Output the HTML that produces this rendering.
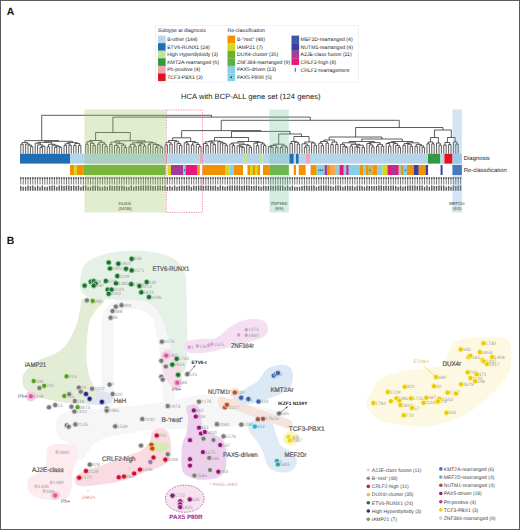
<!DOCTYPE html>
<html><head><meta charset="utf-8"><style>
html,body{margin:0;padding:0;background:#fff;}
body{width:520px;height:530px;overflow:hidden;}
svg{display:block;font-family:"Liberation Sans", sans-serif;text-rendering:geometricPrecision;}
</style></head><body>
<svg width="520" height="530" viewBox="0 0 520 530">
<rect x="0" y="0" width="520" height="530" fill="#fff"/>
<text x="6.8" y="15.0" font-size="10.4" fill="#111" font-weight="bold" text-anchor="start" >A</text>
<rect x="155.5" y="25.5" width="203" height="56.5" fill="#fff" stroke="#efefef" stroke-width="0.8"/>
<text x="158" y="32.2" font-size="5.15" fill="#262626" font-weight="normal" text-anchor="start" >Subtype at diagnosis</text>
<text x="227.5" y="32.2" font-size="5.15" fill="#262626" font-weight="normal" text-anchor="start" >Re-classification</text>
<rect x="158" y="35.60" width="7.6" height="7.62" fill="#b9d6ec"/>
<text x="167.2" y="41.2" font-size="5.15" fill="#262626" font-weight="normal" text-anchor="start" >B-other (144)</text>
<rect x="158" y="43.17" width="7.6" height="7.62" fill="#1f6db3"/>
<text x="167.2" y="48.77" font-size="5.15" fill="#262626" font-weight="normal" text-anchor="start" >ETV6-RUNX1 (24)</text>
<rect x="158" y="50.74" width="7.6" height="7.62" fill="#c9df94"/>
<text x="167.2" y="56.34" font-size="5.15" fill="#262626" font-weight="normal" text-anchor="start" >High Hyperdiploidy (3)</text>
<rect x="158" y="58.31" width="7.6" height="7.62" fill="#2f9a3f"/>
<text x="167.2" y="63.910000000000004" font-size="5.15" fill="#262626" font-weight="normal" text-anchor="start" >KMT2A-rearranged (6)</text>
<rect x="158" y="65.88" width="7.6" height="7.62" fill="#f3a5ad"/>
<text x="167.2" y="71.47999999999999" font-size="5.15" fill="#262626" font-weight="normal" text-anchor="start" >Ph-positive (4)</text>
<rect x="158" y="73.45" width="7.6" height="7.62" fill="#e1131f"/>
<text x="167.2" y="79.05" font-size="5.15" fill="#262626" font-weight="normal" text-anchor="start" >TCF3-PBX1 (3)</text>
<rect x="227.5" y="35.60" width="7.6" height="7.62" fill="#f39200"/>
<text x="237" y="41.2" font-size="5.15" fill="#262626" font-weight="normal" text-anchor="start" >B-"rest" (48)</text>
<rect x="227.5" y="43.17" width="7.6" height="7.62" fill="#d4d81c"/>
<text x="237" y="48.77" font-size="5.15" fill="#262626" font-weight="normal" text-anchor="start" >iAMP21 (7)</text>
<rect x="227.5" y="50.74" width="7.6" height="7.62" fill="#6cb22e"/>
<text x="237" y="56.34" font-size="5.15" fill="#262626" font-weight="normal" text-anchor="start" >DUX4-cluster (35)</text>
<rect x="227.5" y="58.31" width="7.6" height="7.62" fill="#5faf3a"/>
<text x="237" y="63.910000000000004" font-size="5.15" fill="#262626" font-weight="normal" text-anchor="start" >ZNF384-rearranged (9)</text>
<rect x="227.5" y="65.88" width="7.6" height="7.62" fill="#86cfe6"/>
<text x="237" y="71.47999999999999" font-size="5.15" fill="#262626" font-weight="normal" text-anchor="start" >PAX5-driven (13)</text>
<rect x="227.5" y="73.45" width="7.6" height="7.62" fill="#86cfe6"/>
<text x="237" y="79.05" font-size="5.15" fill="#262626" font-weight="normal" text-anchor="start" >PAX5 P80R (5)</text>
<circle cx="231.3" cy="77.25" r="0.9" fill="#1a3a8a"/>
<rect x="291.5" y="35.60" width="7.6" height="7.62" fill="#3b5ba8"/>
<text x="300.6" y="41.2" font-size="5.15" fill="#262626" font-weight="normal" text-anchor="start" >MEF2D-rearranged (4)</text>
<rect x="291.5" y="43.17" width="7.6" height="7.62" fill="#3c3f9f"/>
<text x="300.6" y="48.77" font-size="5.15" fill="#262626" font-weight="normal" text-anchor="start" >NUTM1-rearranged (4)</text>
<rect x="291.5" y="50.74" width="7.6" height="7.62" fill="#a43b96"/>
<text x="300.6" y="56.34" font-size="5.15" fill="#262626" font-weight="normal" text-anchor="start" >A2JE-class fusion (11)</text>
<rect x="291.5" y="58.31" width="7.6" height="6.65" fill="#e8177c"/>
<text x="300.6" y="63.910000000000004" font-size="5.15" fill="#262626" font-weight="normal" text-anchor="start" >CRLF2-high (8)</text>
<rect x="294.8" y="67.88" width="0.9" height="3.8" fill="#1e4a4a"/>
<text x="300.6" y="71.6" font-size="5.15" fill="#262626" font-weight="normal" text-anchor="start" >CRLF2-rearragement</text>
<text x="250.8" y="99.1" font-size="7.65" fill="#222" font-weight="normal" text-anchor="middle" >HCA with BCP-ALL gene set (124 genes)</text>
<path d="M20.80,144.28L23.20,144.28M20.80,144.28L20.80,153.80M23.20,144.28L23.20,153.80M30.41,146.76L32.82,146.76M30.41,146.76L30.41,153.80M32.82,146.76L32.82,153.80M28.01,145.22L31.61,145.22M28.01,145.22L28.01,153.80M31.61,145.22L31.61,146.76M25.61,144.08L29.81,144.08M25.61,144.08L25.61,153.80M29.81,144.08L29.81,145.22M22.00,142.60L27.71,142.60M22.00,142.60L22.00,144.28M27.71,142.60L27.71,144.08M40.03,147.30L42.43,147.30M40.03,147.30L40.03,153.80M42.43,147.30L42.43,153.80M41.23,146.33L44.83,146.33M41.23,146.33L41.23,147.30M44.83,146.33L44.83,153.80M37.62,144.88L43.03,144.88M37.62,144.88L37.62,153.80M43.03,144.88L43.03,146.33M35.22,143.18L40.33,143.18M35.22,143.18L35.22,153.80M40.33,143.18L40.33,144.88M47.24,146.80L49.64,146.80M47.24,146.80L47.24,153.80M49.64,146.80L49.64,153.80M54.45,147.30L56.85,147.30M54.45,147.30L54.45,153.80M56.85,147.30L56.85,153.80M59.25,147.30L61.66,147.30M59.25,147.30L59.25,153.80M61.66,147.30L61.66,153.80M55.65,146.39L60.45,146.39M55.65,146.39L55.65,147.30M60.45,146.39L60.45,147.30M52.04,145.32L58.05,145.32M52.04,145.32L52.04,153.80M58.05,145.32L58.05,146.39M48.44,144.27L55.05,144.27M48.44,144.27L48.44,146.80M55.05,144.27L55.05,145.32M37.77,142.40L51.74,142.40M37.77,142.40L37.77,143.18M51.74,142.40L51.74,144.27M64.06,145.32L66.46,145.32M64.06,145.32L64.06,153.80M66.46,145.32L66.46,153.80M68.87,145.32L71.27,145.32M68.87,145.32L68.87,153.80M71.27,145.32L71.27,153.80M65.26,143.75L70.07,143.75M65.26,143.75L65.26,145.32M70.07,143.75L70.07,145.32M73.67,145.56L76.08,145.56M73.67,145.56L73.67,153.80M76.08,145.56L76.08,153.80M78.48,145.42L80.88,145.42M78.48,145.42L78.48,153.80M80.88,145.42L80.88,153.80M74.87,143.55L79.68,143.55M74.87,143.55L74.87,145.56M79.68,143.55L79.68,145.42M67.66,142.60L77.28,142.60M67.66,142.60L67.66,143.75M77.28,142.60L77.28,143.55M44.76,141.30L72.47,141.30M44.76,141.30L44.76,142.40M72.47,141.30L72.47,142.60M24.86,140.60L58.61,140.60M24.86,140.60L24.86,142.60M58.61,140.60L58.61,141.30M85.69,144.20L88.09,144.20M85.69,144.20L85.69,153.80M88.09,144.20L88.09,153.80M92.90,145.41L95.30,145.41M92.90,145.41L92.90,153.80M95.30,145.41L95.30,153.80M90.50,143.28L94.10,143.28M90.50,143.28L90.50,153.80M94.10,143.28L94.10,145.41M86.89,141.74L92.30,141.74M86.89,141.74L86.89,144.20M92.30,141.74L92.30,143.28M97.70,144.10L100.11,144.10M97.70,144.10L97.70,153.80M100.11,144.10L100.11,153.80M104.91,146.53L107.32,146.53M104.91,146.53L104.91,153.80M107.32,146.53L107.32,153.80M102.51,144.13L106.12,144.13M102.51,144.13L102.51,153.80M106.12,144.13L106.12,146.53M98.91,142.25L104.31,142.25M98.91,142.25L98.91,144.10M104.31,142.25L104.31,144.13M89.59,140.50L101.61,140.50M89.59,140.50L89.59,141.74M101.61,140.50L101.61,142.25M109.72,144.39L112.12,144.39M109.72,144.39L109.72,153.80M112.12,144.39L112.12,153.80M116.93,147.30L119.33,147.30M116.93,147.30L116.93,153.80M119.33,147.30L119.33,153.80M114.53,145.45L118.13,145.45M114.53,145.45L114.53,153.80M118.13,145.45L118.13,147.30M124.14,147.30L126.54,147.30M124.14,147.30L124.14,153.80M126.54,147.30L126.54,153.80M121.74,145.10L125.34,145.10M121.74,145.10L121.74,153.80M125.34,145.10L125.34,147.30M116.33,143.70L123.54,143.70M116.33,143.70L116.33,145.45M123.54,143.70L123.54,145.10M110.92,142.09L119.94,142.09M110.92,142.09L110.92,144.39M119.94,142.09L119.94,143.70M128.95,146.80L131.35,146.80M128.95,146.80L128.95,153.80M131.35,146.80L131.35,153.80M133.75,146.16L136.16,146.16M133.75,146.16L133.75,153.80M136.16,146.16L136.16,153.80M130.15,144.32L134.96,144.32M130.15,144.32L130.15,146.80M134.96,144.32L134.96,146.16M138.56,145.53L140.96,145.53M138.56,145.53L138.56,153.80M140.96,145.53L140.96,153.80M143.37,146.06L145.77,146.06M143.37,146.06L143.37,153.80M145.77,146.06L145.77,153.80M139.76,144.00L144.57,144.00M139.76,144.00L139.76,145.53M144.57,144.00L144.57,146.06M132.55,142.84L142.17,142.84M132.55,142.84L132.55,144.32M142.17,142.84L142.17,144.00M148.17,144.54L150.58,144.54M148.17,144.54L148.17,153.80M150.58,144.54L150.58,153.80M155.38,147.30L157.79,147.30M155.38,147.30L155.38,153.80M157.79,147.30L157.79,153.80M160.19,147.30L162.59,147.30M160.19,147.30L160.19,153.80M162.59,147.30L162.59,153.80M156.59,145.76L161.39,145.76M156.59,145.76L156.59,147.30M161.39,145.76L161.39,147.30M152.98,144.59L158.99,144.59M152.98,144.59L152.98,153.80M158.99,144.59L158.99,145.76M149.38,142.97L155.98,142.97M149.38,142.97L149.38,144.54M155.98,142.97L155.98,144.59M137.36,142.07L152.68,142.07M137.36,142.07L137.36,142.84M152.68,142.07L152.68,142.97M115.43,140.80L145.02,140.80M115.43,140.80L115.43,142.09M145.02,140.80L145.02,142.07M95.60,132.50L130.22,132.50M95.60,132.50L95.60,140.50M130.22,132.50L130.22,140.80M165.00,144.80L167.40,144.80M165.00,144.80L165.00,153.80M167.40,144.80L167.40,153.80M169.80,144.09L172.21,144.09M169.80,144.09L169.80,153.80M172.21,144.09L172.21,153.80M166.20,142.26L171.00,142.26M166.20,142.26L166.20,144.80M171.00,142.26L171.00,144.09M179.42,145.33L181.82,145.33M179.42,145.33L179.42,153.80M181.82,145.33L181.82,153.80M177.01,143.55L180.62,143.55M177.01,143.55L177.01,153.80M180.62,143.55L180.62,145.33M174.61,141.70L178.82,141.70M174.61,141.70L174.61,153.80M178.82,141.70L178.82,143.55M168.60,140.50L176.71,140.50M168.60,140.50L168.60,142.26M176.71,140.50L176.71,141.70M186.63,144.29L189.03,144.29M186.63,144.29L186.63,153.80M189.03,144.29L189.03,153.80M184.22,142.78L187.83,142.78M184.22,142.78L184.22,153.80M187.83,142.78L187.83,144.29M191.43,144.88L193.84,144.88M191.43,144.88L191.43,153.80M193.84,144.88L193.84,153.80M198.64,146.79L201.05,146.79M198.64,146.79L198.64,153.80M201.05,146.79L201.05,153.80M196.24,144.55L199.84,144.55M196.24,144.55L196.24,153.80M199.84,144.55L199.84,146.79M192.63,142.70L198.04,142.70M192.63,142.70L192.63,144.88M198.04,142.70L198.04,144.55M186.03,141.50L195.34,141.50M186.03,141.50L186.03,142.78M195.34,141.50L195.34,142.70M172.66,137.80L190.68,137.80M172.66,137.80L172.66,140.50M190.68,137.80L190.68,141.50M205.85,145.37L208.26,145.37M205.85,145.37L205.85,153.80M208.26,145.37L208.26,153.80M203.45,143.40L207.05,143.40M203.45,143.40L203.45,153.80M207.05,143.40L207.05,145.37M213.06,144.52L215.47,144.52M213.06,144.52L213.06,153.80M215.47,144.52L215.47,153.80M210.66,142.94L214.26,142.94M210.66,142.94L210.66,153.80M214.26,142.94L214.26,144.52M205.25,141.76L212.46,141.76M205.25,141.76L205.25,143.40M212.46,141.76L212.46,142.94M225.08,145.30L227.48,145.30M225.08,145.30L225.08,153.80M227.48,145.30L227.48,153.80M222.68,143.77L226.28,143.77M222.68,143.77L222.68,153.80M226.28,143.77L226.28,145.30M220.27,142.89L224.48,142.89M220.27,142.89L220.27,153.80M224.48,142.89L224.48,143.77M217.87,141.78L222.38,141.78M217.87,141.78L217.87,153.80M222.38,141.78L222.38,142.89M208.86,141.00L220.12,141.00M208.86,141.00L208.86,141.76M220.12,141.00L220.12,141.78M232.29,145.59L234.69,145.59M232.29,145.59L232.29,153.80M234.69,145.59L234.69,153.80M229.89,143.94L233.49,143.94M229.89,143.94L229.89,153.80M233.49,143.94L233.49,145.59M241.90,147.30L244.30,147.30M241.90,147.30L241.90,153.80M244.30,147.30L244.30,153.80M239.50,146.74L243.10,146.74M239.50,146.74L239.50,153.80M243.10,146.74L243.10,147.30M237.10,145.91L241.30,145.91M237.10,145.91L237.10,153.80M241.30,145.91L241.30,146.74M249.11,147.30L251.51,147.30M249.11,147.30L249.11,153.80M251.51,147.30L251.51,153.80M246.71,145.55L250.31,145.55M246.71,145.55L246.71,153.80M250.31,145.55L250.31,147.30M239.20,144.66L248.51,144.66M239.20,144.66L239.20,145.91M248.51,144.66L248.51,145.55M231.69,142.94L243.85,142.94M231.69,142.94L231.69,143.94M243.85,142.94L243.85,144.66M256.32,145.64L258.72,145.64M256.32,145.64L256.32,153.80M258.72,145.64L258.72,153.80M253.92,143.11L257.52,143.11M253.92,143.11L253.92,153.80M257.52,143.11L257.52,145.64M263.53,145.61L265.93,145.61M263.53,145.61L263.53,153.80M265.93,145.61L265.93,153.80M261.13,143.91L264.73,143.91M261.13,143.91L261.13,153.80M264.73,143.91L264.73,145.61M255.72,142.38L262.93,142.38M255.72,142.38L255.72,143.11M262.93,142.38L262.93,143.91M237.77,141.50L259.33,141.50M237.77,141.50L237.77,142.94M259.33,141.50L259.33,142.38M214.49,137.50L248.55,137.50M214.49,137.50L214.49,141.00M248.55,137.50L248.55,141.50M270.74,147.30L273.14,147.30M270.74,147.30L270.74,153.80M273.14,147.30L273.14,153.80M268.34,146.63L271.94,146.63M268.34,146.63L268.34,153.80M271.94,146.63L271.94,147.30M275.55,147.30L277.95,147.30M275.55,147.30L275.55,153.80M277.95,147.30L277.95,153.80M270.14,145.54L276.75,145.54M270.14,145.54L270.14,146.63M276.75,145.54L276.75,147.30M280.35,147.30L282.76,147.30M280.35,147.30L280.35,153.80M282.76,147.30L282.76,153.80M285.16,147.30L287.56,147.30M285.16,147.30L285.16,153.80M287.56,147.30L287.56,153.80M281.56,145.87L286.36,145.87M281.56,145.87L281.56,147.30M286.36,145.87L286.36,147.30M273.44,144.20L283.96,144.20M273.44,144.20L273.44,145.54M283.96,144.20L283.96,145.87M289.97,143.43L292.37,143.43M289.97,143.43L289.97,153.80M292.37,143.43L292.37,153.80M297.18,144.05L299.58,144.05M297.18,144.05L297.18,153.80M299.58,144.05L299.58,153.80M294.77,142.23L298.38,142.23M294.77,142.23L294.77,153.80M298.38,142.23L298.38,144.05M291.17,141.50L296.58,141.50M291.17,141.50L291.17,143.43M296.58,141.50L296.58,142.23M304.39,147.30L306.79,147.30M304.39,147.30L304.39,153.80M306.79,147.30L306.79,153.80M305.59,145.73L309.19,145.73M305.59,145.73L305.59,147.30M309.19,145.73L309.19,153.80M301.98,143.85L307.39,143.85M301.98,143.85L301.98,153.80M307.39,143.85L307.39,145.73M314.00,145.22L316.40,145.22M314.00,145.22L314.00,153.80M316.40,145.22L316.40,153.80M311.60,142.97L315.20,142.97M311.60,142.97L311.60,153.80M315.20,142.97L315.20,145.22M304.69,142.00L313.40,142.00M304.69,142.00L304.69,143.85M313.40,142.00L313.40,142.97M293.87,136.50L309.04,136.50M293.87,136.50L293.87,141.50M309.04,136.50L309.04,142.00M278.70,134.00L301.46,134.00M278.70,134.00L278.70,144.20M301.46,134.00L301.46,136.50M231.52,131.40L290.08,131.40M231.52,131.40L231.52,137.50M290.08,131.40L290.08,134.00M181.67,130.60L260.80,130.60M181.67,130.60L181.67,137.80M260.80,130.60L260.80,131.40M321.21,145.67L323.61,145.67M321.21,145.67L321.21,153.80M323.61,145.67L323.61,153.80M318.81,143.21L322.41,143.21M318.81,143.21L318.81,153.80M322.41,143.21L322.41,145.67M326.02,143.10L328.42,143.10M326.02,143.10L326.02,153.80M328.42,143.10L328.42,153.80M320.61,141.50L327.22,141.50M320.61,141.50L320.61,143.21M327.22,141.50L327.22,143.10M330.82,144.59L333.23,144.59M330.82,144.59L330.82,153.80M333.23,144.59L333.23,153.80M335.63,144.44L338.03,144.44M335.63,144.44L335.63,153.80M338.03,144.44L338.03,153.80M332.02,142.00L336.83,142.00M332.02,142.00L332.02,144.59M336.83,142.00L336.83,144.44M323.91,140.00L334.43,140.00M323.91,140.00L323.91,141.50M334.43,140.00L334.43,142.00M345.24,147.30L347.65,147.30M345.24,147.30L345.24,153.80M347.65,147.30L347.65,153.80M342.84,146.29L346.44,146.29M342.84,146.29L342.84,153.80M346.44,146.29L346.44,147.30M340.44,144.42L344.64,144.42M340.44,144.42L340.44,153.80M344.64,144.42L344.64,146.29M350.05,146.00L352.45,146.00M350.05,146.00L350.05,153.80M352.45,146.00L352.45,153.80M357.26,147.30L359.66,147.30M357.26,147.30L357.26,153.80M359.66,147.30L359.66,153.80M354.86,146.89L358.46,146.89M354.86,146.89L354.86,153.80M358.46,146.89L358.46,147.30M362.07,147.30L364.47,147.30M362.07,147.30L362.07,153.80M364.47,147.30L364.47,153.80M356.66,145.22L363.27,145.22M356.66,145.22L356.66,146.89M363.27,145.22L363.27,147.30M351.25,144.34L359.96,144.34M351.25,144.34L351.25,146.00M359.96,144.34L359.96,145.22M342.54,142.77L355.61,142.77M342.54,142.77L342.54,144.42M355.61,142.77L355.61,144.34M371.68,146.98L374.08,146.98M371.68,146.98L371.68,153.80M374.08,146.98L374.08,153.80M369.28,144.96L372.88,144.96M369.28,144.96L369.28,153.80M372.88,144.96L372.88,146.98M366.87,143.48L371.08,143.48M366.87,143.48L366.87,153.80M371.08,143.48L371.08,144.96M376.49,146.12L378.89,146.12M376.49,146.12L376.49,153.80M378.89,146.12L378.89,153.80M381.29,146.17L383.70,146.17M381.29,146.17L381.29,153.80M383.70,146.17L383.70,153.80M377.69,144.37L382.49,144.37M377.69,144.37L377.69,146.12M382.49,144.37L382.49,146.17M368.98,142.62L380.09,142.62M368.98,142.62L368.98,143.48M380.09,142.62L380.09,144.37M349.07,141.50L374.53,141.50M349.07,141.50L349.07,142.77M374.53,141.50L374.53,142.62M388.50,146.09L390.90,146.09M388.50,146.09L388.50,153.80M390.90,146.09L390.90,153.80M386.10,143.50L389.70,143.50M386.10,143.50L386.10,153.80M389.70,143.50L389.70,146.09M398.11,147.30L400.52,147.30M398.11,147.30L398.11,153.80M400.52,147.30L400.52,153.80M395.71,145.40L399.32,145.40M395.71,145.40L395.71,153.80M399.32,145.40L399.32,147.30M393.31,143.61L397.51,143.61M393.31,143.61L393.31,153.80M397.51,143.61L397.51,145.40M387.90,142.49L395.41,142.49M387.90,142.49L387.90,143.50M395.41,142.49L395.41,143.61M402.92,145.28L405.32,145.28M402.92,145.28L402.92,153.80M405.32,145.28L405.32,153.80M410.13,146.33L412.53,146.33M410.13,146.33L410.13,153.80M412.53,146.33L412.53,153.80M407.73,144.27L411.33,144.27M407.73,144.27L407.73,153.80M411.33,144.27L411.33,146.33M404.12,143.56L409.53,143.56M404.12,143.56L404.12,145.28M409.53,143.56L409.53,144.27M414.94,146.30L417.34,146.30M414.94,146.30L414.94,153.80M417.34,146.30L417.34,153.80M422.15,147.30L424.55,147.30M422.15,147.30L422.15,153.80M424.55,147.30L424.55,153.80M419.74,145.73L423.35,145.73M419.74,145.73L419.74,153.80M423.35,145.73L423.35,147.30M416.14,144.41L421.55,144.41M416.14,144.41L416.14,146.30M421.55,144.41L421.55,145.73M406.83,142.84L418.84,142.84M406.83,142.84L406.83,143.56M418.84,142.84L418.84,144.41M391.66,141.50L412.83,141.50M391.66,141.50L391.66,142.49M412.83,141.50L412.83,142.84M361.80,139.00L402.25,139.00M361.80,139.00L361.80,141.50M402.25,139.00L402.25,141.50M329.17,137.00L382.02,137.00M329.17,137.00L329.17,140.00M382.02,137.00L382.02,139.00M426.95,143.80L429.36,143.80M426.95,143.80L426.95,153.80M429.36,143.80L429.36,153.80M431.76,143.83L434.16,143.83M431.76,143.83L431.76,153.80M434.16,143.83L434.16,153.80M428.16,142.00L432.96,142.00M428.16,142.00L428.16,143.80M432.96,142.00L432.96,143.83M438.97,145.17L441.37,145.17M438.97,145.17L438.97,153.80M441.37,145.17L441.37,153.80M436.57,143.00L440.17,143.00M436.57,143.00L436.57,153.80M440.17,143.00L440.17,145.17M430.56,137.50L438.37,137.50M430.56,137.50L430.56,142.00M438.37,137.50L438.37,143.00M443.78,145.09L446.18,145.09M443.78,145.09L443.78,153.80M446.18,145.09L446.18,153.80M448.58,144.53L450.99,144.53M448.58,144.53L448.58,153.80M450.99,144.53L450.99,153.80M444.98,142.50L449.79,142.50M444.98,142.50L444.98,145.09M449.79,142.50L449.79,144.53M455.79,144.11L458.20,144.11M455.79,144.11L455.79,153.80M458.20,144.11L458.20,153.80M453.39,142.00L457.00,142.00M453.39,142.00L453.39,153.80M457.00,142.00L457.00,144.11M447.38,137.50L455.19,137.50M447.38,137.50L447.38,142.50M455.19,137.50L455.19,142.00M434.46,130.00L451.29,130.00M434.46,130.00L434.46,137.50M451.29,130.00L451.29,137.50M355.60,127.50L442.88,127.50M355.60,127.50L355.60,137.00M442.88,127.50L442.88,130.00M221.23,120.30L399.24,120.30M221.23,120.30L221.23,130.60M399.24,120.30L399.24,127.50M112.91,117.10L310.24,117.10M112.91,117.10L112.91,132.50M310.24,117.10L310.24,120.30M41.73,115.30L211.57,115.30M41.73,115.30L41.73,140.60M211.57,115.30L211.57,117.10" stroke="#1e1e1e" stroke-width="0.72" fill="none"/>
<rect x="20" y="153.8" width="50.05" height="9.8" fill="#1f6db3"/>
<rect x="70" y="153.8" width="95.65" height="9.8" fill="#b6d5eb"/>
<rect x="165.6" y="153.8" width="1.95" height="9.8" fill="#f3a5ad"/>
<rect x="167.5" y="153.8" width="32.30" height="9.8" fill="#b6d5eb"/>
<rect x="199.75" y="153.8" width="2.80" height="9.8" fill="#f3a5ad"/>
<rect x="202.5" y="153.8" width="40.55" height="9.8" fill="#b6d5eb"/>
<rect x="243" y="153.8" width="4.05" height="9.8" fill="#c9df94"/>
<rect x="247" y="153.8" width="13.05" height="9.8" fill="#b6d5eb"/>
<rect x="260" y="153.8" width="2.55" height="9.8" fill="#c9df94"/>
<rect x="262.5" y="153.8" width="26.95" height="9.8" fill="#b6d5eb"/>
<rect x="289.4" y="153.8" width="4.40" height="9.8" fill="#1f6db3"/>
<rect x="293.75" y="153.8" width="2.30" height="9.8" fill="#b6d5eb"/>
<rect x="296" y="153.8" width="2.80" height="9.8" fill="#1f6db3"/>
<rect x="298.75" y="153.8" width="6.90" height="9.8" fill="#b6d5eb"/>
<rect x="305.6" y="153.8" width="4.45" height="9.8" fill="#f3a5ad"/>
<rect x="310" y="153.8" width="118.05" height="9.8" fill="#b6d5eb"/>
<rect x="428" y="153.8" width="12.05" height="9.8" fill="#2f9a3f"/>
<rect x="440" y="153.8" width="4.45" height="9.8" fill="#b6d5eb"/>
<rect x="444.4" y="153.8" width="8.15" height="9.8" fill="#e1131f"/>
<rect x="452.5" y="153.8" width="9.35" height="9.8" fill="#b6d5eb"/>
<rect x="70" y="165.0" width="4.25" height="10.0" fill="#f39200"/>
<rect x="74.2" y="165.0" width="2.85" height="10.0" fill="#d4d81c"/>
<rect x="77" y="165.0" width="6.80" height="10.0" fill="#f39200"/>
<rect x="83.75" y="165.0" width="81.90" height="10.0" fill="#6cb22e"/>
<rect x="167.5" y="165.0" width="3.55" height="10.0" fill="#d4d81c"/>
<rect x="171" y="165.0" width="12.05" height="10.0" fill="#a43b96"/>
<rect x="183" y="165.0" width="2.65" height="10.0" fill="#86cfe6"/>
<rect x="185.6" y="165.0" width="11.95" height="10.0" fill="#e8177c"/>
<rect x="197.5" y="165.0" width="2.30" height="10.0" fill="#f39200"/>
<rect x="202.5" y="165.0" width="23.15" height="10.0" fill="#f39200"/>
<rect x="225.6" y="165.0" width="3.85" height="10.0" fill="#d4d81c"/>
<rect x="229.4" y="165.0" width="4.40" height="10.0" fill="#86cfe6"/>
<rect x="233.75" y="165.0" width="9.30" height="10.0" fill="#f39200"/>
<rect x="247.5" y="165.0" width="2.55" height="10.0" fill="#f39200"/>
<rect x="250" y="165.0" width="3.05" height="10.0" fill="#d4d81c"/>
<rect x="253" y="165.0" width="2.05" height="10.0" fill="#f39200"/>
<rect x="255" y="165.0" width="2.55" height="10.0" fill="#d4d81c"/>
<rect x="257.5" y="165.0" width="2.55" height="10.0" fill="#f39200"/>
<rect x="263" y="165.0" width="6.75" height="10.0" fill="#f39200"/>
<rect x="269.7" y="165.0" width="19.10" height="10.0" fill="#6cb22e"/>
<rect x="293.75" y="165.0" width="2.30" height="10.0" fill="#f39200"/>
<rect x="298.75" y="165.0" width="6.90" height="10.0" fill="#f39200"/>
<rect x="310.6" y="165.0" width="5.70" height="10.0" fill="#f39200"/>
<rect x="316.25" y="165.0" width="1.30" height="10.0" fill="#9cc04a"/>
<rect x="317.5" y="165.0" width="7.15" height="10.0" fill="#86cfe6"/>
<rect x="324.6" y="165.0" width="2.95" height="10.0" fill="#a43b96"/>
<rect x="327.5" y="165.0" width="2.55" height="10.0" fill="#f39200"/>
<rect x="330" y="165.0" width="5.05" height="10.0" fill="#f5a94a"/>
<rect x="335" y="165.0" width="3.80" height="10.0" fill="#86cfe6"/>
<rect x="338.75" y="165.0" width="1.30" height="10.0" fill="#f39200"/>
<rect x="340" y="165.0" width="3.80" height="10.0" fill="#e8177c"/>
<rect x="343.75" y="165.0" width="2.55" height="10.0" fill="#86cfe6"/>
<rect x="346.25" y="165.0" width="2.55" height="10.0" fill="#a43b96"/>
<rect x="348.75" y="165.0" width="10.70" height="10.0" fill="#86cfe6"/>
<rect x="359.4" y="165.0" width="3.65" height="10.0" fill="#f39200"/>
<rect x="363" y="165.0" width="2.65" height="10.0" fill="#86cfe6"/>
<rect x="365.6" y="165.0" width="2.45" height="10.0" fill="#f39200"/>
<rect x="368" y="165.0" width="4.55" height="10.0" fill="#c6b85a"/>
<rect x="372.5" y="165.0" width="5.05" height="10.0" fill="#f39200"/>
<rect x="377.5" y="165.0" width="5.05" height="10.0" fill="#86cfe6"/>
<rect x="382.5" y="165.0" width="5.05" height="10.0" fill="#d4d81c"/>
<rect x="387.5" y="165.0" width="4.55" height="10.0" fill="#e8177c"/>
<rect x="392" y="165.0" width="3.05" height="10.0" fill="#a43b96"/>
<rect x="395" y="165.0" width="3.80" height="10.0" fill="#e8177c"/>
<rect x="398.75" y="165.0" width="1.90" height="10.0" fill="#86cfe6"/>
<rect x="400.6" y="165.0" width="3.20" height="10.0" fill="#c8a030"/>
<rect x="403.75" y="165.0" width="3.30" height="10.0" fill="#86cfe6"/>
<rect x="407" y="165.0" width="6.80" height="10.0" fill="#f39200"/>
<rect x="413.75" y="165.0" width="5.05" height="10.0" fill="#3c3f9f"/>
<rect x="418.75" y="165.0" width="6.90" height="10.0" fill="#f39200"/>
<rect x="425.6" y="165.0" width="2.45" height="10.0" fill="#3c3f9f"/>
<rect x="440.6" y="165.0" width="1.95" height="10.0" fill="#3c3f9f"/>
<rect x="452.5" y="165.0" width="9.35" height="10.0" fill="#3b65b3"/>
<circle cx="184.4" cy="170.2" r="0.6" fill="#1a2a6a"/>
<circle cx="318.8" cy="170.2" r="0.6" fill="#1a2a6a"/>
<circle cx="320.6" cy="170.2" r="0.6" fill="#1a2a6a"/>
<circle cx="322.5" cy="170.2" r="0.6" fill="#1a2a6a"/>
<circle cx="370" cy="170.2" r="0.6" fill="#1a2a6a"/>
<circle cx="405.3" cy="170.2" r="0.6" fill="#1a2a6a"/>
<path d="M20.05,177.3h1.5v1.6h-1.5zM22.45,177.3h1.5v1.6h-1.5zM24.86,177.3h1.5v1.6h-1.5zM27.26,177.3h1.5v1.6h-1.5zM29.66,177.3h1.5v1.6h-1.5zM32.07,177.3h1.5v1.6h-1.5zM34.47,177.3h1.5v1.6h-1.5zM36.87,177.3h1.5v1.6h-1.5zM39.28,177.3h1.5v1.6h-1.5zM41.68,177.3h1.5v1.6h-1.5zM44.08,177.3h1.5v1.6h-1.5zM46.49,177.3h1.5v1.6h-1.5zM48.89,177.3h1.5v1.6h-1.5zM51.29,177.3h1.5v1.6h-1.5zM53.70,177.3h1.5v1.6h-1.5zM56.10,177.3h1.5v1.6h-1.5zM58.50,177.3h1.5v1.6h-1.5zM60.91,177.3h1.5v1.6h-1.5zM63.31,177.3h1.5v1.6h-1.5zM65.71,177.3h1.5v1.6h-1.5zM68.12,177.3h1.5v1.6h-1.5zM70.52,177.3h1.5v1.6h-1.5zM72.92,177.3h1.5v1.6h-1.5zM75.33,177.3h1.5v1.6h-1.5zM77.73,177.3h1.5v1.6h-1.5zM80.13,177.3h1.5v1.6h-1.5zM82.54,177.3h1.5v1.6h-1.5zM84.94,177.3h1.5v1.6h-1.5zM87.34,177.3h1.5v1.6h-1.5zM89.75,177.3h1.5v1.6h-1.5zM92.15,177.3h1.5v1.6h-1.5zM94.55,177.3h1.5v1.6h-1.5zM96.95,177.3h1.5v1.6h-1.5zM99.36,177.3h1.5v1.6h-1.5zM101.76,177.3h1.5v1.6h-1.5zM104.16,177.3h1.5v1.6h-1.5zM106.57,177.3h1.5v1.6h-1.5zM108.97,177.3h1.5v1.6h-1.5zM111.37,177.3h1.5v1.6h-1.5zM113.78,177.3h1.5v1.6h-1.5zM116.18,177.3h1.5v1.6h-1.5zM118.58,177.3h1.5v1.6h-1.5zM120.99,177.3h1.5v1.6h-1.5zM123.39,177.3h1.5v1.6h-1.5zM125.79,177.3h1.5v1.6h-1.5zM128.20,177.3h1.5v1.6h-1.5zM130.60,177.3h1.5v1.6h-1.5zM133.00,177.3h1.5v1.6h-1.5zM135.41,177.3h1.5v1.6h-1.5zM137.81,177.3h1.5v1.6h-1.5zM140.21,177.3h1.5v1.6h-1.5zM142.62,177.3h1.5v1.6h-1.5zM145.02,177.3h1.5v1.6h-1.5zM147.42,177.3h1.5v1.6h-1.5zM149.83,177.3h1.5v1.6h-1.5zM152.23,177.3h1.5v1.6h-1.5zM154.63,177.3h1.5v1.6h-1.5zM157.04,177.3h1.5v1.6h-1.5zM159.44,177.3h1.5v1.6h-1.5zM161.84,177.3h1.5v1.6h-1.5zM164.25,177.3h1.5v1.6h-1.5zM166.65,177.3h1.5v1.6h-1.5zM169.05,177.3h1.5v1.6h-1.5zM171.46,177.3h1.5v1.6h-1.5zM173.86,177.3h1.5v1.6h-1.5zM176.26,177.3h1.5v1.6h-1.5zM178.67,177.3h1.5v1.6h-1.5zM181.07,177.3h1.5v1.6h-1.5zM183.47,177.3h1.5v1.6h-1.5zM185.88,177.3h1.5v1.6h-1.5zM188.28,177.3h1.5v1.6h-1.5zM190.68,177.3h1.5v1.6h-1.5zM193.09,177.3h1.5v1.6h-1.5zM195.49,177.3h1.5v1.6h-1.5zM197.89,177.3h1.5v1.6h-1.5zM200.30,177.3h1.5v1.6h-1.5zM202.70,177.3h1.5v1.6h-1.5zM205.10,177.3h1.5v1.6h-1.5zM207.51,177.3h1.5v1.6h-1.5zM209.91,177.3h1.5v1.6h-1.5zM212.31,177.3h1.5v1.6h-1.5zM214.72,177.3h1.5v1.6h-1.5zM217.12,177.3h1.5v1.6h-1.5zM219.52,177.3h1.5v1.6h-1.5zM221.93,177.3h1.5v1.6h-1.5zM224.33,177.3h1.5v1.6h-1.5zM226.73,177.3h1.5v1.6h-1.5zM229.14,177.3h1.5v1.6h-1.5zM231.54,177.3h1.5v1.6h-1.5zM233.94,177.3h1.5v1.6h-1.5zM236.35,177.3h1.5v1.6h-1.5zM238.75,177.3h1.5v1.6h-1.5zM241.15,177.3h1.5v1.6h-1.5zM243.55,177.3h1.5v1.6h-1.5zM245.96,177.3h1.5v1.6h-1.5zM248.36,177.3h1.5v1.6h-1.5zM250.76,177.3h1.5v1.6h-1.5zM253.17,177.3h1.5v1.6h-1.5zM255.57,177.3h1.5v1.6h-1.5zM257.97,177.3h1.5v1.6h-1.5zM260.38,177.3h1.5v1.6h-1.5zM262.78,177.3h1.5v1.6h-1.5zM265.18,177.3h1.5v1.6h-1.5zM267.59,177.3h1.5v1.6h-1.5zM269.99,177.3h1.5v1.6h-1.5zM272.39,177.3h1.5v1.6h-1.5zM274.80,177.3h1.5v1.6h-1.5zM277.20,177.3h1.5v1.6h-1.5zM279.60,177.3h1.5v1.6h-1.5zM282.01,177.3h1.5v1.6h-1.5zM284.41,177.3h1.5v1.6h-1.5zM286.81,177.3h1.5v1.6h-1.5zM289.22,177.3h1.5v1.6h-1.5zM291.62,177.3h1.5v1.6h-1.5zM294.02,177.3h1.5v1.6h-1.5zM296.43,177.3h1.5v1.6h-1.5zM298.83,177.3h1.5v1.6h-1.5zM301.23,177.3h1.5v1.6h-1.5zM303.64,177.3h1.5v1.6h-1.5zM306.04,177.3h1.5v1.6h-1.5zM308.44,177.3h1.5v1.6h-1.5zM310.85,177.3h1.5v1.6h-1.5zM313.25,177.3h1.5v1.6h-1.5zM315.65,177.3h1.5v1.6h-1.5zM318.06,177.3h1.5v1.6h-1.5zM320.46,177.3h1.5v1.6h-1.5zM322.86,177.3h1.5v1.6h-1.5zM325.27,177.3h1.5v1.6h-1.5zM327.67,177.3h1.5v1.6h-1.5zM330.07,177.3h1.5v1.6h-1.5zM332.48,177.3h1.5v1.6h-1.5zM334.88,177.3h1.5v1.6h-1.5zM337.28,177.3h1.5v1.6h-1.5zM339.69,177.3h1.5v1.6h-1.5zM342.09,177.3h1.5v1.6h-1.5zM344.49,177.3h1.5v1.6h-1.5zM346.90,177.3h1.5v1.6h-1.5zM349.30,177.3h1.5v1.6h-1.5zM351.70,177.3h1.5v1.6h-1.5zM354.11,177.3h1.5v1.6h-1.5zM356.51,177.3h1.5v1.6h-1.5zM358.91,177.3h1.5v1.6h-1.5zM361.32,177.3h1.5v1.6h-1.5zM363.72,177.3h1.5v1.6h-1.5zM366.12,177.3h1.5v1.6h-1.5zM368.53,177.3h1.5v1.6h-1.5zM370.93,177.3h1.5v1.6h-1.5zM373.33,177.3h1.5v1.6h-1.5zM375.74,177.3h1.5v1.6h-1.5zM378.14,177.3h1.5v1.6h-1.5zM380.54,177.3h1.5v1.6h-1.5zM382.95,177.3h1.5v1.6h-1.5zM385.35,177.3h1.5v1.6h-1.5zM387.75,177.3h1.5v1.6h-1.5zM390.15,177.3h1.5v1.6h-1.5zM392.56,177.3h1.5v1.6h-1.5zM394.96,177.3h1.5v1.6h-1.5zM397.36,177.3h1.5v1.6h-1.5zM399.77,177.3h1.5v1.6h-1.5zM402.17,177.3h1.5v1.6h-1.5zM404.57,177.3h1.5v1.6h-1.5zM406.98,177.3h1.5v1.6h-1.5zM409.38,177.3h1.5v1.6h-1.5zM411.78,177.3h1.5v1.6h-1.5zM414.19,177.3h1.5v1.6h-1.5zM416.59,177.3h1.5v1.6h-1.5zM418.99,177.3h1.5v1.6h-1.5zM421.40,177.3h1.5v1.6h-1.5zM423.80,177.3h1.5v1.6h-1.5zM426.20,177.3h1.5v1.6h-1.5zM428.61,177.3h1.5v1.6h-1.5zM431.01,177.3h1.5v1.6h-1.5zM433.41,177.3h1.5v1.6h-1.5zM435.82,177.3h1.5v1.6h-1.5zM438.22,177.3h1.5v1.6h-1.5zM440.62,177.3h1.5v1.6h-1.5zM443.03,177.3h1.5v1.6h-1.5zM445.43,177.3h1.5v1.6h-1.5zM447.83,177.3h1.5v1.6h-1.5zM450.24,177.3h1.5v1.6h-1.5zM452.64,177.3h1.5v1.6h-1.5zM455.04,177.3h1.5v1.6h-1.5zM457.45,177.3h1.5v1.6h-1.5zM459.85,177.3h1.5v1.6h-1.5z" fill="#4a4a4a"/>
<path d="M20.35,178.9h0.9v5.7h-0.9zM22.75,178.9h0.9v5.7h-0.9zM25.16,178.9h0.9v5.7h-0.9zM27.56,178.9h0.9v5.7h-0.9zM29.96,178.9h0.9v5.7h-0.9zM32.37,178.9h0.9v5.7h-0.9zM34.77,178.9h0.9v5.7h-0.9zM37.17,178.9h0.9v5.7h-0.9zM39.58,178.9h0.9v5.7h-0.9zM41.98,178.9h0.9v5.7h-0.9zM44.38,178.9h0.9v5.7h-0.9zM46.79,178.9h0.9v5.7h-0.9zM49.19,178.9h0.9v5.7h-0.9zM51.59,178.9h0.9v5.7h-0.9zM54.00,178.9h0.9v5.7h-0.9zM56.40,178.9h0.9v5.7h-0.9zM58.80,178.9h0.9v5.7h-0.9zM61.21,178.9h0.9v5.7h-0.9zM63.61,178.9h0.9v5.7h-0.9zM66.01,178.9h0.9v5.7h-0.9zM68.42,178.9h0.9v5.7h-0.9zM70.82,178.9h0.9v5.7h-0.9zM73.22,178.9h0.9v5.7h-0.9zM75.63,178.9h0.9v5.7h-0.9zM78.03,178.9h0.9v5.7h-0.9zM80.43,178.9h0.9v5.7h-0.9zM82.84,178.9h0.9v5.7h-0.9zM85.24,178.9h0.9v5.7h-0.9zM87.64,178.9h0.9v5.7h-0.9zM90.05,178.9h0.9v5.7h-0.9zM92.45,178.9h0.9v5.7h-0.9zM94.85,178.9h0.9v5.7h-0.9zM97.25,178.9h0.9v5.7h-0.9zM99.66,178.9h0.9v5.7h-0.9zM102.06,178.9h0.9v5.7h-0.9zM104.46,178.9h0.9v5.7h-0.9zM106.87,178.9h0.9v5.7h-0.9zM109.27,178.9h0.9v5.7h-0.9zM111.67,178.9h0.9v5.7h-0.9zM114.08,178.9h0.9v5.7h-0.9zM116.48,178.9h0.9v5.7h-0.9zM118.88,178.9h0.9v5.7h-0.9zM121.29,178.9h0.9v5.7h-0.9zM123.69,178.9h0.9v5.7h-0.9zM126.09,178.9h0.9v5.7h-0.9zM128.50,178.9h0.9v5.7h-0.9zM130.90,178.9h0.9v5.7h-0.9zM133.30,178.9h0.9v5.7h-0.9zM135.71,178.9h0.9v5.7h-0.9zM138.11,178.9h0.9v5.7h-0.9zM140.51,178.9h0.9v5.7h-0.9zM142.92,178.9h0.9v5.7h-0.9zM145.32,178.9h0.9v5.7h-0.9zM147.72,178.9h0.9v5.7h-0.9zM150.13,178.9h0.9v5.7h-0.9zM152.53,178.9h0.9v5.7h-0.9zM154.93,178.9h0.9v5.7h-0.9zM157.34,178.9h0.9v5.7h-0.9zM159.74,178.9h0.9v5.7h-0.9zM162.14,178.9h0.9v5.7h-0.9zM164.55,178.9h0.9v5.7h-0.9zM166.95,178.9h0.9v5.7h-0.9zM169.35,178.9h0.9v5.7h-0.9zM171.76,178.9h0.9v5.7h-0.9zM174.16,178.9h0.9v5.7h-0.9zM176.56,178.9h0.9v5.7h-0.9zM178.97,178.9h0.9v5.7h-0.9zM181.37,178.9h0.9v5.7h-0.9zM183.77,178.9h0.9v5.7h-0.9zM186.18,178.9h0.9v5.7h-0.9zM188.58,178.9h0.9v5.7h-0.9zM190.98,178.9h0.9v5.7h-0.9zM193.39,178.9h0.9v5.7h-0.9zM195.79,178.9h0.9v5.7h-0.9zM198.19,178.9h0.9v5.7h-0.9zM200.60,178.9h0.9v5.7h-0.9zM203.00,178.9h0.9v5.7h-0.9zM205.40,178.9h0.9v5.7h-0.9zM207.81,178.9h0.9v5.7h-0.9zM210.21,178.9h0.9v5.7h-0.9zM212.61,178.9h0.9v5.7h-0.9zM215.02,178.9h0.9v5.7h-0.9zM217.42,178.9h0.9v5.7h-0.9zM219.82,178.9h0.9v5.7h-0.9zM222.23,178.9h0.9v5.7h-0.9zM224.63,178.9h0.9v5.7h-0.9zM227.03,178.9h0.9v5.7h-0.9zM229.44,178.9h0.9v5.7h-0.9zM231.84,178.9h0.9v5.7h-0.9zM234.24,178.9h0.9v5.7h-0.9zM236.65,178.9h0.9v5.7h-0.9zM239.05,178.9h0.9v5.7h-0.9zM241.45,178.9h0.9v5.7h-0.9zM243.85,178.9h0.9v5.7h-0.9zM246.26,178.9h0.9v5.7h-0.9zM248.66,178.9h0.9v5.7h-0.9zM251.06,178.9h0.9v5.7h-0.9zM253.47,178.9h0.9v5.7h-0.9zM255.87,178.9h0.9v5.7h-0.9zM258.27,178.9h0.9v5.7h-0.9zM260.68,178.9h0.9v5.7h-0.9zM263.08,178.9h0.9v5.7h-0.9zM265.48,178.9h0.9v5.7h-0.9zM267.89,178.9h0.9v5.7h-0.9zM270.29,178.9h0.9v5.7h-0.9zM272.69,178.9h0.9v5.7h-0.9zM275.10,178.9h0.9v5.7h-0.9zM277.50,178.9h0.9v5.7h-0.9zM279.90,178.9h0.9v5.7h-0.9zM282.31,178.9h0.9v5.7h-0.9zM284.71,178.9h0.9v5.7h-0.9zM287.11,178.9h0.9v5.7h-0.9zM289.52,178.9h0.9v5.7h-0.9zM291.92,178.9h0.9v5.7h-0.9zM294.32,178.9h0.9v5.7h-0.9zM296.73,178.9h0.9v5.7h-0.9zM299.13,178.9h0.9v5.7h-0.9zM301.53,178.9h0.9v5.7h-0.9zM303.94,178.9h0.9v5.7h-0.9zM306.34,178.9h0.9v5.7h-0.9zM308.74,178.9h0.9v5.7h-0.9zM311.15,178.9h0.9v5.7h-0.9zM313.55,178.9h0.9v5.7h-0.9zM315.95,178.9h0.9v5.7h-0.9zM318.36,178.9h0.9v5.7h-0.9zM320.76,178.9h0.9v5.7h-0.9zM323.16,178.9h0.9v5.7h-0.9zM325.57,178.9h0.9v5.7h-0.9zM327.97,178.9h0.9v5.7h-0.9zM330.37,178.9h0.9v5.7h-0.9zM332.78,178.9h0.9v5.7h-0.9zM335.18,178.9h0.9v5.7h-0.9zM337.58,178.9h0.9v5.7h-0.9zM339.99,178.9h0.9v5.7h-0.9zM342.39,178.9h0.9v5.7h-0.9zM344.79,178.9h0.9v5.7h-0.9zM347.20,178.9h0.9v5.7h-0.9zM349.60,178.9h0.9v5.7h-0.9zM352.00,178.9h0.9v5.7h-0.9zM354.41,178.9h0.9v5.7h-0.9zM356.81,178.9h0.9v5.7h-0.9zM359.21,178.9h0.9v5.7h-0.9zM361.62,178.9h0.9v5.7h-0.9zM364.02,178.9h0.9v5.7h-0.9zM366.42,178.9h0.9v5.7h-0.9zM368.83,178.9h0.9v5.7h-0.9zM371.23,178.9h0.9v5.7h-0.9zM373.63,178.9h0.9v5.7h-0.9zM376.04,178.9h0.9v5.7h-0.9zM378.44,178.9h0.9v5.7h-0.9zM380.84,178.9h0.9v5.7h-0.9zM383.25,178.9h0.9v5.7h-0.9zM385.65,178.9h0.9v5.7h-0.9zM388.05,178.9h0.9v5.7h-0.9zM390.45,178.9h0.9v5.7h-0.9zM392.86,178.9h0.9v5.7h-0.9zM395.26,178.9h0.9v5.7h-0.9zM397.66,178.9h0.9v5.7h-0.9zM400.07,178.9h0.9v5.7h-0.9zM402.47,178.9h0.9v5.7h-0.9zM404.87,178.9h0.9v5.7h-0.9zM407.28,178.9h0.9v5.7h-0.9zM409.68,178.9h0.9v5.7h-0.9zM412.08,178.9h0.9v5.7h-0.9zM414.49,178.9h0.9v5.7h-0.9zM416.89,178.9h0.9v5.7h-0.9zM419.29,178.9h0.9v5.7h-0.9zM421.70,178.9h0.9v5.7h-0.9zM424.10,178.9h0.9v5.7h-0.9zM426.50,178.9h0.9v5.7h-0.9zM428.91,178.9h0.9v5.7h-0.9zM431.31,178.9h0.9v5.7h-0.9zM433.71,178.9h0.9v5.7h-0.9zM436.12,178.9h0.9v5.7h-0.9zM438.52,178.9h0.9v5.7h-0.9zM440.92,178.9h0.9v5.7h-0.9zM443.33,178.9h0.9v5.7h-0.9zM445.73,178.9h0.9v5.7h-0.9zM448.13,178.9h0.9v5.7h-0.9zM450.54,178.9h0.9v5.7h-0.9zM452.94,178.9h0.9v5.7h-0.9zM455.34,178.9h0.9v5.7h-0.9zM457.75,178.9h0.9v5.7h-0.9zM460.15,178.9h0.9v5.7h-0.9z" fill="#6e6e6e"/>
<path d="M20.10,186.10h1.4v4.60h-1.4zM22.50,186.70h1.4v4.00h-1.4zM24.91,186.70h1.4v4.00h-1.4zM27.31,185.50h1.4v5.20h-1.4zM29.71,186.10h1.4v4.60h-1.4zM32.12,185.50h1.4v5.20h-1.4zM34.52,186.70h1.4v4.00h-1.4zM36.92,185.50h1.4v5.20h-1.4zM39.33,186.70h1.4v4.00h-1.4zM41.73,185.50h1.4v5.20h-1.4zM44.13,186.70h1.4v4.00h-1.4zM46.54,186.70h1.4v4.00h-1.4zM48.94,186.10h1.4v4.60h-1.4zM51.34,185.50h1.4v5.20h-1.4zM53.75,185.50h1.4v5.20h-1.4zM56.15,186.70h1.4v4.00h-1.4zM58.55,185.50h1.4v5.20h-1.4zM60.96,185.50h1.4v5.20h-1.4zM63.36,186.10h1.4v4.60h-1.4zM65.76,185.50h1.4v5.20h-1.4zM68.17,185.50h1.4v5.20h-1.4zM70.57,186.10h1.4v4.60h-1.4zM72.97,185.50h1.4v5.20h-1.4zM75.38,186.10h1.4v4.60h-1.4zM77.78,185.50h1.4v5.20h-1.4zM80.18,186.70h1.4v4.00h-1.4zM82.59,185.50h1.4v5.20h-1.4zM84.99,185.50h1.4v5.20h-1.4zM87.39,186.70h1.4v4.00h-1.4zM89.80,186.70h1.4v4.00h-1.4zM92.20,185.50h1.4v5.20h-1.4zM94.60,185.50h1.4v5.20h-1.4zM97.00,185.50h1.4v5.20h-1.4zM99.41,186.70h1.4v4.00h-1.4zM101.81,186.70h1.4v4.00h-1.4zM104.21,186.10h1.4v4.60h-1.4zM106.62,186.70h1.4v4.00h-1.4zM109.02,185.50h1.4v5.20h-1.4zM111.42,186.10h1.4v4.60h-1.4zM113.83,186.10h1.4v4.60h-1.4zM116.23,185.50h1.4v5.20h-1.4zM118.63,186.10h1.4v4.60h-1.4zM121.04,185.50h1.4v5.20h-1.4zM123.44,186.10h1.4v4.60h-1.4zM125.84,186.70h1.4v4.00h-1.4zM128.25,186.70h1.4v4.00h-1.4zM130.65,185.50h1.4v5.20h-1.4zM133.05,186.70h1.4v4.00h-1.4zM135.46,186.10h1.4v4.60h-1.4zM137.86,186.10h1.4v4.60h-1.4zM140.26,185.50h1.4v5.20h-1.4zM142.67,185.50h1.4v5.20h-1.4zM145.07,185.50h1.4v5.20h-1.4zM147.47,185.50h1.4v5.20h-1.4zM149.88,185.50h1.4v5.20h-1.4zM152.28,186.10h1.4v4.60h-1.4zM154.68,186.10h1.4v4.60h-1.4zM157.09,185.50h1.4v5.20h-1.4zM159.49,185.50h1.4v5.20h-1.4zM161.89,186.10h1.4v4.60h-1.4zM164.30,185.50h1.4v5.20h-1.4zM166.70,186.70h1.4v4.00h-1.4zM169.10,186.10h1.4v4.60h-1.4zM171.51,186.70h1.4v4.00h-1.4zM173.91,185.50h1.4v5.20h-1.4zM176.31,186.70h1.4v4.00h-1.4zM178.72,186.10h1.4v4.60h-1.4zM181.12,185.50h1.4v5.20h-1.4zM183.52,186.10h1.4v4.60h-1.4zM185.93,185.50h1.4v5.20h-1.4zM188.33,185.50h1.4v5.20h-1.4zM190.73,186.70h1.4v4.00h-1.4zM193.14,185.50h1.4v5.20h-1.4zM195.54,186.10h1.4v4.60h-1.4zM197.94,185.50h1.4v5.20h-1.4zM200.35,185.50h1.4v5.20h-1.4zM202.75,186.10h1.4v4.60h-1.4zM205.15,185.50h1.4v5.20h-1.4zM207.56,185.50h1.4v5.20h-1.4zM209.96,185.50h1.4v5.20h-1.4zM212.36,186.10h1.4v4.60h-1.4zM214.77,185.50h1.4v5.20h-1.4zM217.17,186.70h1.4v4.00h-1.4zM219.57,185.50h1.4v5.20h-1.4zM221.98,186.10h1.4v4.60h-1.4zM224.38,186.70h1.4v4.00h-1.4zM226.78,186.10h1.4v4.60h-1.4zM229.19,185.50h1.4v5.20h-1.4zM231.59,185.50h1.4v5.20h-1.4zM233.99,185.50h1.4v5.20h-1.4zM236.40,185.50h1.4v5.20h-1.4zM238.80,185.50h1.4v5.20h-1.4zM241.20,186.10h1.4v4.60h-1.4zM243.60,185.50h1.4v5.20h-1.4zM246.01,185.50h1.4v5.20h-1.4zM248.41,185.50h1.4v5.20h-1.4zM250.81,186.10h1.4v4.60h-1.4zM253.22,186.10h1.4v4.60h-1.4zM255.62,185.50h1.4v5.20h-1.4zM258.02,186.10h1.4v4.60h-1.4zM260.43,186.70h1.4v4.00h-1.4zM262.83,185.50h1.4v5.20h-1.4zM265.23,186.10h1.4v4.60h-1.4zM267.64,186.10h1.4v4.60h-1.4zM270.04,185.50h1.4v5.20h-1.4zM272.44,186.10h1.4v4.60h-1.4zM274.85,185.50h1.4v5.20h-1.4zM277.25,185.50h1.4v5.20h-1.4zM279.65,185.50h1.4v5.20h-1.4zM282.06,185.50h1.4v5.20h-1.4zM284.46,186.70h1.4v4.00h-1.4zM286.86,185.50h1.4v5.20h-1.4zM289.27,186.70h1.4v4.00h-1.4zM291.67,185.50h1.4v5.20h-1.4zM294.07,186.70h1.4v4.00h-1.4zM296.48,186.70h1.4v4.00h-1.4zM298.88,186.70h1.4v4.00h-1.4zM301.28,186.10h1.4v4.60h-1.4zM303.69,185.50h1.4v5.20h-1.4zM306.09,185.50h1.4v5.20h-1.4zM308.49,186.10h1.4v4.60h-1.4zM310.90,185.50h1.4v5.20h-1.4zM313.30,185.50h1.4v5.20h-1.4zM315.70,186.70h1.4v4.00h-1.4zM318.11,186.10h1.4v4.60h-1.4zM320.51,185.50h1.4v5.20h-1.4zM322.91,185.50h1.4v5.20h-1.4zM325.32,185.50h1.4v5.20h-1.4zM327.72,185.50h1.4v5.20h-1.4zM330.12,186.10h1.4v4.60h-1.4zM332.53,186.70h1.4v4.00h-1.4zM334.93,185.50h1.4v5.20h-1.4zM337.33,185.50h1.4v5.20h-1.4zM339.74,185.50h1.4v5.20h-1.4zM342.14,186.70h1.4v4.00h-1.4zM344.54,186.10h1.4v4.60h-1.4zM346.95,185.50h1.4v5.20h-1.4zM349.35,186.10h1.4v4.60h-1.4zM351.75,185.50h1.4v5.20h-1.4zM354.16,186.70h1.4v4.00h-1.4zM356.56,185.50h1.4v5.20h-1.4zM358.96,185.50h1.4v5.20h-1.4zM361.37,186.10h1.4v4.60h-1.4zM363.77,186.70h1.4v4.00h-1.4zM366.17,185.50h1.4v5.20h-1.4zM368.58,186.10h1.4v4.60h-1.4zM370.98,186.10h1.4v4.60h-1.4zM373.38,186.10h1.4v4.60h-1.4zM375.79,186.10h1.4v4.60h-1.4zM378.19,185.50h1.4v5.20h-1.4zM380.59,185.50h1.4v5.20h-1.4zM383.00,186.10h1.4v4.60h-1.4zM385.40,185.50h1.4v5.20h-1.4zM387.80,186.10h1.4v4.60h-1.4zM390.20,185.50h1.4v5.20h-1.4zM392.61,185.50h1.4v5.20h-1.4zM395.01,186.10h1.4v4.60h-1.4zM397.41,186.70h1.4v4.00h-1.4zM399.82,185.50h1.4v5.20h-1.4zM402.22,186.70h1.4v4.00h-1.4zM404.62,186.10h1.4v4.60h-1.4zM407.03,185.50h1.4v5.20h-1.4zM409.43,185.50h1.4v5.20h-1.4zM411.83,185.50h1.4v5.20h-1.4zM414.24,185.50h1.4v5.20h-1.4zM416.64,186.10h1.4v4.60h-1.4zM419.04,185.50h1.4v5.20h-1.4zM421.45,185.50h1.4v5.20h-1.4zM423.85,186.70h1.4v4.00h-1.4zM426.25,185.50h1.4v5.20h-1.4zM428.66,186.70h1.4v4.00h-1.4zM431.06,185.50h1.4v5.20h-1.4zM433.46,186.10h1.4v4.60h-1.4zM435.87,186.10h1.4v4.60h-1.4zM438.27,185.50h1.4v5.20h-1.4zM440.67,185.50h1.4v5.20h-1.4zM443.08,185.50h1.4v5.20h-1.4zM445.48,186.70h1.4v4.00h-1.4zM447.88,186.10h1.4v4.60h-1.4zM450.29,186.70h1.4v4.00h-1.4zM452.69,185.50h1.4v5.20h-1.4zM455.09,186.10h1.4v4.60h-1.4zM457.50,185.50h1.4v5.20h-1.4zM459.90,185.50h1.4v5.20h-1.4z" fill="#585858"/>
<rect x="84.5" y="109.5" width="81.3" height="103.0" fill="#98c35c" opacity="0.3"/>
<rect x="269.4" y="109.5" width="19.4" height="103.0" fill="#73c0a2" opacity="0.3"/>
<rect x="452.5" y="109.5" width="9.4" height="103.0" fill="#6ca8d4" opacity="0.3"/>
<rect x="166.3" y="110" width="36.2" height="102.5" fill="none" stroke="#e0507a" stroke-width="0.6" stroke-dasharray="1.3,1.1"/>
<text x="125" y="205.3" font-size="4.3" fill="#444" font-weight="normal" text-anchor="middle" >DUX4r</text>
<text x="125" y="210.3" font-size="4.3" fill="#444" font-weight="normal" text-anchor="middle" >(34/35)</text>
<text x="279.2" y="205.3" font-size="4.3" fill="#444" font-weight="normal" text-anchor="middle" >ZNF384r</text>
<text x="279.2" y="210.3" font-size="4.3" fill="#444" font-weight="normal" text-anchor="middle" >(8/9)</text>
<text x="457" y="205.3" font-size="4.3" fill="#444" font-weight="normal" text-anchor="middle" >MEF2Dr</text>
<text x="457" y="210.3" font-size="4.3" fill="#444" font-weight="normal" text-anchor="middle" >(4/4)</text>
<text x="463.8" y="159.6" font-size="5.9" fill="#222" font-weight="normal" text-anchor="start" >Diagnosis</text>
<text x="463.8" y="172.0" font-size="5.9" fill="#222" font-weight="normal" text-anchor="start" >Re-classification</text>
<text x="6.8" y="243.6" font-size="10.4" fill="#111" font-weight="bold" text-anchor="start" >B</text>
<path d="M107.5,402 L107.5,322 Q109,305 130,303 Q152,303 159,318 L166,352 L169,398" stroke="#f6f6f6" stroke-width="12" fill="none" stroke-linecap="round" stroke-linejoin="round"/>
<path d="M58.0,418.0 C60.3,415.2 63.8,412.5 70.0,411.0 C76.2,409.5 86.7,409.7 95.0,409.0 C103.3,408.3 110.8,407.8 120.0,407.0 C129.2,406.2 140.8,405.2 150.0,404.0 C159.2,402.8 166.7,401.5 175.0,400.0 C183.3,398.5 191.7,395.3 200.0,395.0 C208.3,394.7 216.7,396.3 225.0,398.0 C233.3,399.7 241.7,403.0 250.0,405.0 C258.3,407.0 269.2,407.8 275.0,410.0 C280.8,412.2 285.8,415.8 285.0,418.0 C284.2,420.2 277.5,421.7 270.0,423.0 C262.5,424.3 250.0,425.2 240.0,426.0 C230.0,426.8 220.8,427.5 210.0,428.0 C199.2,428.5 185.0,428.7 175.0,429.0 C165.0,429.3 157.5,429.3 150.0,430.0 C142.5,430.7 137.5,431.7 130.0,433.0 C122.5,434.3 111.3,435.8 105.0,438.0 C98.7,440.2 95.5,442.7 92.0,446.0 C88.5,449.3 86.7,456.0 84.0,458.0 C81.3,460.0 78.0,460.0 76.0,458.0 C74.0,456.0 74.7,449.3 72.0,446.0 C69.3,442.7 62.7,441.0 60.0,438.0 C57.3,435.0 56.3,431.3 56.0,428.0 C55.7,424.7 55.7,420.8 58.0,418.0Z" fill="#f6f6f6" />
<path d="M76.0,393.0 C78.0,391.0 85.2,389.2 90.0,389.0 C94.8,388.8 101.2,390.2 105.0,391.5 C108.8,392.8 112.3,394.5 113.0,396.5 C113.7,398.5 112.5,402.1 109.0,403.5 C105.5,404.9 97.2,405.2 92.0,404.8 C86.8,404.4 80.7,403.0 78.0,401.0 C75.3,399.0 74.0,395.0 76.0,393.0Z" fill="#e2e4f0" />
<path d="M80.0,285.0 C80.0,281.3 80.3,274.2 82.0,270.0 C83.7,265.8 85.0,262.9 90.0,260.0 C95.0,257.1 104.0,254.1 112.0,252.5 C120.0,250.9 129.4,250.2 138.0,250.5 C146.6,250.8 156.8,252.6 163.5,254.5 C170.2,256.4 174.4,258.9 178.0,262.0 C181.6,265.1 183.6,267.5 185.0,273.0 C186.4,278.5 186.2,287.2 186.5,295.0 C186.8,302.8 186.8,311.7 187.0,320.0 C187.2,328.3 187.6,337.5 187.5,345.0 C187.4,352.5 187.4,360.2 186.5,365.0 C185.6,369.8 183.9,372.3 182.0,374.0 C180.1,375.7 176.8,376.5 175.0,375.0 C173.2,373.5 171.8,369.2 171.0,365.0 C170.2,360.8 171.3,355.8 170.5,350.0 C169.7,344.2 167.8,335.8 166.0,330.0 C164.2,324.2 162.8,319.5 160.0,315.0 C157.2,310.5 153.2,305.5 149.0,303.0 C144.8,300.5 139.8,300.5 135.0,300.0 C130.2,299.5 125.8,300.2 120.0,300.0 C114.2,299.8 105.3,299.5 100.0,299.0 C94.7,298.5 91.0,298.2 88.0,297.0 C85.0,295.8 83.3,294.0 82.0,292.0 C80.7,290.0 80.0,288.7 80.0,285.0Z" fill="#e5f1e7" />
<path d="M84.0,298.5 C88.0,296.8 102.0,298.1 104.0,300.0 C106.0,301.9 98.4,306.3 96.0,310.0 C93.6,313.7 91.0,317.0 89.5,322.0 C88.0,327.0 87.5,334.0 87.0,340.0 C86.5,346.0 86.2,352.2 86.5,358.0 C86.8,363.8 87.4,369.3 89.0,375.0 C90.6,380.7 95.5,387.7 96.0,392.0 C96.5,396.3 94.7,399.1 92.0,401.0 C89.3,402.9 85.3,403.3 80.0,403.5 C74.7,403.7 66.7,403.1 60.0,402.0 C53.3,400.9 45.5,398.8 40.0,397.0 C34.5,395.2 29.9,393.5 27.0,391.0 C24.1,388.5 22.8,385.2 22.5,382.0 C22.2,378.8 22.4,375.5 25.0,372.0 C27.6,368.5 32.5,364.3 38.0,361.0 C43.5,357.7 53.0,355.2 58.0,352.0 C63.0,348.8 65.0,346.3 68.0,342.0 C71.0,337.7 74.0,331.3 76.0,326.0 C78.0,320.7 78.7,314.6 80.0,310.0 C81.3,305.4 80.0,300.2 84.0,298.5Z" fill="#e3ecd4" />
<path d="M185.0,342.0 C187.7,340.5 194.8,339.7 200.0,339.0 C205.2,338.3 211.0,340.0 216.0,338.0 C221.0,336.0 225.2,330.0 230.0,327.0 C234.8,324.0 239.7,321.2 245.0,320.0 C250.3,318.8 258.2,318.8 262.0,320.0 C265.8,321.2 267.5,324.3 268.0,327.0 C268.5,329.7 267.7,333.7 265.0,336.0 C262.3,338.3 257.8,339.2 252.0,341.0 C246.2,342.8 237.0,345.2 230.0,347.0 C223.0,348.8 216.7,351.0 210.0,352.0 C203.3,353.0 194.3,353.7 190.0,353.0 C185.7,352.3 184.8,349.8 184.0,348.0 C183.2,346.2 182.3,343.5 185.0,342.0Z" fill="#f5e0f2" />
<path d="M162.0,352.0 C163.5,349.8 167.3,347.7 170.0,349.0 C172.7,350.3 176.0,355.2 178.0,360.0 C180.0,364.8 181.5,373.3 182.0,378.0 C182.5,382.7 182.3,386.2 181.0,388.0 C179.7,389.8 176.5,390.7 174.0,389.0 C171.5,387.3 168.2,382.5 166.0,378.0 C163.8,373.5 161.7,366.3 161.0,362.0 C160.3,357.7 160.5,354.2 162.0,352.0Z" fill="#f6dbe9" opacity="0.9"/>
<path d="M234.0,396.0 C235.8,393.7 241.0,391.5 245.0,389.0 C249.0,386.5 254.5,384.2 258.0,381.0 C261.5,377.8 263.0,372.6 266.0,370.0 C269.0,367.4 272.5,366.2 276.0,365.5 C279.5,364.8 284.2,364.4 287.0,365.5 C289.8,366.6 291.8,368.9 292.5,372.0 C293.2,375.1 292.9,380.7 291.5,384.0 C290.1,387.3 287.6,389.7 284.0,392.0 C280.4,394.3 274.5,396.2 270.0,398.0 C265.5,399.8 261.3,401.4 257.0,402.5 C252.7,403.6 247.8,404.4 244.0,404.5 C240.2,404.6 235.7,404.4 234.0,403.0 C232.3,401.6 232.2,398.3 234.0,396.0Z" fill="#dbe8f5" />
<path d="M249.0,423.0 C251.2,421.2 258.2,420.0 262.0,420.0 C265.8,420.0 269.7,420.7 272.0,423.0 C274.3,425.3 274.5,430.2 276.0,434.0 C277.5,437.8 278.3,443.0 281.0,446.0 C283.7,449.0 289.3,449.3 292.0,452.0 C294.7,454.7 297.2,458.8 297.0,462.0 C296.8,465.2 294.2,469.3 291.0,471.0 C287.8,472.7 281.8,472.8 278.0,472.0 C274.2,471.2 270.5,469.3 268.0,466.0 C265.5,462.7 265.0,456.3 263.0,452.0 C261.0,447.7 258.3,443.5 256.0,440.0 C253.7,436.5 250.2,433.8 249.0,431.0 C247.8,428.2 246.8,424.8 249.0,423.0Z" fill="#deebf6" />
<path d="M222,401 L288,424" stroke="#f4e4e0" stroke-width="9" stroke-linecap="round"/>
<path d="M223,405.5 L232,403" stroke="#fae4da" stroke-width="9" stroke-linecap="round"/>
<path d="M186.4,407.0 C187.1,404.7 190.1,404.7 192.0,404.5 C193.9,404.3 196.6,404.3 198.0,406.0 C199.4,407.7 199.7,410.9 200.6,414.5 C201.5,418.1 201.4,424.6 203.4,427.7 C205.4,430.8 209.7,431.5 212.8,433.4 C216.0,435.3 220.2,436.8 222.3,439.0 C224.4,441.2 224.8,443.8 225.5,446.6 C226.2,449.4 226.5,452.3 226.5,456.0 C226.5,459.7 226.5,465.7 225.5,469.0 C224.5,472.3 222.5,474.3 220.4,476.0 C218.3,477.7 216.6,478.4 212.8,479.0 C209.0,479.6 201.8,479.9 197.7,479.5 C193.6,479.1 190.8,477.9 188.3,476.5 C185.8,475.1 183.7,474.4 182.6,471.0 C181.5,467.6 181.5,460.7 181.5,456.0 C181.5,451.3 181.8,446.6 182.6,442.8 C183.4,439.0 185.5,437.5 186.4,433.4 C187.3,429.3 188.0,422.7 188.0,418.3 C188.0,413.9 185.7,409.3 186.4,407.0Z" fill="#edd0eb" />
<path d="M100.0,466.0 C105.8,464.0 113.3,460.5 120.0,458.0 C126.7,455.5 135.0,453.8 140.0,451.0 C145.0,448.2 148.0,444.2 150.0,441.0 C152.0,437.8 150.3,434.2 152.0,432.0 C153.7,429.8 157.3,428.0 160.0,428.0 C162.7,428.0 166.2,429.2 168.0,432.0 C169.8,434.8 170.7,440.7 171.0,445.0 C171.3,449.3 171.5,454.5 170.0,458.0 C168.5,461.5 166.2,463.7 162.0,466.0 C157.8,468.3 151.2,469.7 145.0,472.0 C138.8,474.3 131.7,478.0 125.0,480.0 C118.3,482.0 112.5,483.0 105.0,484.0 C97.5,485.0 85.0,487.0 80.0,486.0 C75.0,485.0 74.2,480.7 75.0,478.0 C75.8,475.3 80.8,472.0 85.0,470.0 C89.2,468.0 94.2,468.0 100.0,466.0Z" fill="#fadbe2" />
<path d="M150.0,443.0 C151.9,442.1 157.0,442.3 160.0,442.5 C163.0,442.7 166.5,443.1 168.0,444.0 C169.5,444.9 169.8,446.8 169.0,448.0 C168.2,449.2 165.8,450.9 163.0,451.5 C160.2,452.1 154.4,452.1 152.0,451.5 C149.6,450.9 148.8,449.4 148.5,448.0 C148.2,446.6 148.1,443.9 150.0,443.0Z" fill="#d6eab4" />
<path d="M48.0,447.0 C50.3,444.0 55.5,444.2 60.0,444.0 C64.5,443.8 72.0,443.7 75.0,446.0 C78.0,448.3 78.3,454.0 78.0,458.0 C77.7,462.0 74.0,465.7 73.0,470.0 C72.0,474.3 72.8,479.5 72.0,484.0 C71.2,488.5 70.8,494.3 68.0,497.0 C65.2,499.7 60.0,499.8 55.0,500.0 C50.0,500.2 42.5,499.7 38.0,498.0 C33.5,496.3 29.5,493.3 28.0,490.0 C26.5,486.7 27.0,481.0 29.0,478.0 C31.0,475.0 37.2,474.7 40.0,472.0 C42.8,469.3 44.7,466.2 46.0,462.0 C47.3,457.8 45.7,450.0 48.0,447.0Z" fill="#fcecf0" />
<path d="M366.0,403.0 C365.5,398.8 369.7,396.0 372.0,392.0 C374.3,388.0 375.3,382.3 380.0,379.0 C384.7,375.7 392.5,373.8 400.0,372.0 C407.5,370.2 417.8,369.2 425.0,368.0 C432.2,366.8 439.0,367.7 443.0,365.0 C447.0,362.3 447.0,355.8 449.0,352.0 C451.0,348.2 451.5,344.3 455.0,342.0 C458.5,339.7 463.3,338.8 470.0,338.0 C476.7,337.2 488.7,336.7 495.0,337.0 C501.3,337.3 505.3,337.5 508.0,340.0 C510.7,342.5 510.7,347.0 511.0,352.0 C511.3,357.0 511.8,364.5 510.0,370.0 C508.2,375.5 504.2,380.0 500.0,385.0 C495.8,390.0 490.8,395.0 485.0,400.0 C479.2,405.0 470.8,411.5 465.0,415.0 C459.2,418.5 455.8,419.2 450.0,421.0 C444.2,422.8 436.7,425.2 430.0,426.0 C423.3,426.8 416.7,426.5 410.0,426.0 C403.3,425.5 395.8,424.5 390.0,423.0 C384.2,421.5 379.0,420.3 375.0,417.0 C371.0,413.7 366.5,407.2 366.0,403.0Z" fill="#fdf8e1" />
<ellipse cx="184.8" cy="498.7" rx="19.4" ry="13.6" fill="#f7e2f0" stroke="#9a3a8a" stroke-width="0.7" stroke-dasharray="1.6,1.2"/>
<circle cx="30.8" cy="396.3" r="5.2" fill="#f8cce0"/>
<circle cx="166.2" cy="355.6" r="4.0" fill="#f5c6dc"/>
<circle cx="177.3" cy="382.7" r="4.0" fill="#f5c6dc"/>
<circle cx="55.2" cy="495.4" r="4.5" fill="#f7c6dc"/>
<circle cx="234.8" cy="392.5" r="5.0" fill="#fae4da"/>
<ellipse cx="291" cy="438.5" rx="8.2" ry="6.8" fill="#fbf5bf"/>
<circle cx="92.7" cy="301" r="3.2" fill="#d6e8b8"/>
<text x="133.5" y="260.4" font-size="4.8" fill="#9c9c9c">628</text>
<text x="120" y="265.2" font-size="4.8" fill="#9c9c9c">1654</text>
<text x="112" y="270.2" font-size="4.8" fill="#9c9c9c">1902</text>
<text x="133.5" y="272" font-size="4.8" fill="#9c9c9c">1571</text>
<text x="119.2" y="277.6" font-size="4.8" fill="#9c9c9c">1109</text>
<text x="107.6" y="282.6" font-size="4.8" fill="#9c9c9c">970</text>
<text x="118" y="285" font-size="4.8" fill="#9c9c9c">1360</text>
<text x="133" y="286" font-size="4.8" fill="#9c9c9c">1594</text>
<text x="141.2" y="287.6" font-size="4.8" fill="#9c9c9c">2014</text>
<text x="148.5" y="283.6" font-size="4.8" fill="#9c9c9c">230</text>
<text x="113.3" y="291.2" font-size="4.8" fill="#9c9c9c">2024</text>
<text x="110.5" y="295.4" font-size="4.8" fill="#9c9c9c">2042</text>
<text x="143.1" y="293.9" font-size="4.8" fill="#9c9c9c">1874</text>
<text x="150.8" y="298.6" font-size="4.8" fill="#9c9c9c">1096</text>
<text x="95.5" y="283.1" font-size="4.8" fill="#9c9c9c">38</text>
<text x="95.5" y="287.2" font-size="4.8" fill="#9c9c9c">930</text>
<text x="94.5" y="302.6" font-size="4.8" fill="#9c9c9c">282</text>
<text x="123.3" y="306.8" font-size="4.8" fill="#9c9c9c">894</text>
<text x="114.3" y="312.6" font-size="4.8" fill="#9c9c9c">668</text>
<text x="112.4" y="319.3" font-size="4.8" fill="#9c9c9c">69</text>
<text x="163.7" y="343.3" font-size="4.8" fill="#9c9c9c">1476</text>
<text x="168" y="357.2" font-size="4.8" fill="#9c9c9c">1405</text>
<text x="178.5" y="360.4" font-size="4.8" fill="#9c9c9c">1734</text>
<text x="174.1" y="366.2" font-size="4.8" fill="#9c9c9c">2054</text>
<text x="189.1" y="375.8" font-size="4.8" fill="#9c9c9c">545</text>
<text x="179.1" y="384.3" font-size="4.8" fill="#9c9c9c">186</text>
<text x="111.4" y="386.2" font-size="4.8" fill="#9c9c9c">7</text>
<text x="114.4" y="395.6" font-size="4.8" fill="#9c9c9c">420</text>
<text x="80.6" y="389.1" font-size="4.8" fill="#9c9c9c">24</text>
<text x="93.9" y="390.4" font-size="4.8" fill="#9c9c9c">2202</text>
<text x="76.6" y="402.6" font-size="4.8" fill="#9c9c9c">116</text>
<text x="79.4" y="408.8" font-size="4.8" fill="#9c9c9c">2873</text>
<text x="76.2" y="413.1" font-size="4.8" fill="#9c9c9c">1402</text>
<text x="108.5" y="411.5" font-size="4.8" fill="#9c9c9c">1985</text>
<text x="57" y="406.6" font-size="4.8" fill="#9c9c9c">13</text>
<text x="77.2" y="426" font-size="4.8" fill="#9c9c9c">2135</text>
<text x="144.1" y="420.6" font-size="4.8" fill="#9c9c9c">2440</text>
<text x="117" y="427.9" font-size="4.8" fill="#9c9c9c">1539</text>
<text x="169.5" y="407.6" font-size="4.8" fill="#9c9c9c">1973</text>
<text x="200.8" y="403.3" font-size="4.8" fill="#9c9c9c">2176</text>
<text x="195.6" y="412" font-size="4.8" fill="#9c9c9c">942</text>
<text x="197.6" y="418.1" font-size="4.8" fill="#9c9c9c">13x</text>
<text x="200.8" y="429.3" font-size="4.8" fill="#9c9c9c">451</text>
<text x="206.6" y="433.6" font-size="4.8" fill="#9c9c9c">3431</text>
<text x="218.7" y="425.8" font-size="4.8" fill="#9c9c9c">2084</text>
<text x="243.1" y="426.2" font-size="4.8" fill="#9c9c9c">1286</text>
<text x="225.3" y="437.9" font-size="4.8" fill="#9c9c9c">1576</text>
<text x="222" y="446.6" font-size="4.8" fill="#9c9c9c">137</text>
<text x="204.7" y="453.7" font-size="4.8" fill="#9c9c9c">1375</text>
<text x="211" y="459.5" font-size="4.8" fill="#9c9c9c">836</text>
<text x="220.1" y="473.3" font-size="4.8" fill="#9c9c9c">463</text>
<text x="196.2" y="477.1" font-size="4.8" fill="#9c9c9c">158a</text>
<text x="158.5" y="437.1" font-size="4.8" fill="#9c9c9c">251</text>
<text x="167.2" y="461.2" font-size="4.8" fill="#9c9c9c">1266</text>
<text x="142" y="471.2" font-size="4.8" fill="#9c9c9c">1246</text>
<text x="126" y="478.1" font-size="4.8" fill="#9c9c9c">362</text>
<text x="91.6" y="466.2" font-size="4.8" fill="#9c9c9c">828</text>
<text x="87.8" y="472.6" font-size="4.8" fill="#9c9c9c">2129</text>
<text x="81" y="479.3" font-size="4.8" fill="#9c9c9c">2170</text>
<text x="59" y="453.6" font-size="4.8" fill="#9c9c9c">4690</text>
<text x="38" y="488" font-size="4.8" fill="#9c9c9c">1446</text>
<text x="53" y="484" font-size="4.8" fill="#9c9c9c">1489</text>
<text x="46" y="492.6" font-size="4.8" fill="#9c9c9c">489</text>
<text x="68.3" y="378" font-size="4.8" fill="#9c9c9c">913</text>
<text x="35.5" y="382.6" font-size="4.8" fill="#9c9c9c">596</text>
<text x="46" y="387.4" font-size="4.8" fill="#9c9c9c">222</text>
<text x="66.1" y="397.5" font-size="4.8" fill="#9c9c9c">285</text>
<text x="32.8" y="397.9" font-size="4.8" fill="#9c9c9c">1308</text>
<text x="174.3" y="497.2" font-size="4.8" fill="#9c9c9c">1772</text>
<text x="191.6" y="501" font-size="4.8" fill="#9c9c9c">635</text>
<text x="182" y="502.9" font-size="4.8" fill="#9c9c9c">1</text>
<text x="182" y="508.7" font-size="4.8" fill="#9c9c9c">1925</text>
<text x="236.6" y="394.1" font-size="4.8" fill="#9c9c9c">119</text>
<text x="228.7" y="408.9" font-size="4.8" fill="#9c9c9c">2227</text>
<text x="265" y="420.4" font-size="4.8" fill="#9c9c9c">1762a</text>
<text x="256.6" y="428.1" font-size="4.8" fill="#9c9c9c">343</text>
<text x="280" y="376" font-size="4.8" fill="#9c9c9c">2</text>
<text x="260.3" y="403.1" font-size="4.8" fill="#9c9c9c">334</text>
<text x="250" y="400.6" font-size="4.8" fill="#9c9c9c">1</text>
<text x="280.8" y="415.1" font-size="4.8" fill="#9c9c9c">665</text>
<text x="291.5" y="438.8" font-size="4.8" fill="#9c9c9c">305</text>
<text x="291.5" y="442" font-size="4.8" fill="#9c9c9c">2067</text>
<text x="279.5" y="462.6" font-size="4.8" fill="#9c9c9c">1</text>
<text x="279.5" y="466" font-size="4.8" fill="#9c9c9c">1865</text>
<text x="191" y="348.7" font-size="4.8" fill="#9c9c9c">1</text>
<text x="199" y="347.6" font-size="4.8" fill="#9c9c9c">1466</text>
<text x="213.5" y="345.8" font-size="4.8" fill="#9c9c9c">1525</text>
<text x="248" y="331.4" font-size="4.8" fill="#9c9c9c">1473</text>
<text x="248" y="336.8" font-size="4.8" fill="#9c9c9c">1660</text>
<text x="438" y="378.7" font-size="4.8" fill="#9c9c9c">690</text>
<text x="406.6" y="388.3" font-size="4.8" fill="#9c9c9c">822</text>
<text x="435.8" y="387.8" font-size="4.8" fill="#9c9c9c">40</text>
<text x="389.7" y="393.6" font-size="4.8" fill="#9c9c9c">1729</text>
<text x="449.3" y="394.1" font-size="4.8" fill="#9c9c9c">1727</text>
<text x="398.3" y="399.9" font-size="4.8" fill="#9c9c9c">1862</text>
<text x="412.8" y="399.9" font-size="4.8" fill="#9c9c9c">1715</text>
<text x="428.1" y="399.3" font-size="4.8" fill="#9c9c9c">687</text>
<text x="442.6" y="401.2" font-size="4.8" fill="#9c9c9c">1552</text>
<text x="375.3" y="404.6" font-size="4.8" fill="#9c9c9c">1764</text>
<text x="402.2" y="406.6" font-size="4.8" fill="#9c9c9c">1818</text>
<text x="425.3" y="404.3" font-size="4.8" fill="#9c9c9c">1118</text>
<text x="438.7" y="403.3" font-size="4.8" fill="#9c9c9c">173</text>
<text x="413.8" y="409.5" font-size="4.8" fill="#9c9c9c">57</text>
<text x="405.6" y="416.8" font-size="4.8" fill="#9c9c9c">770</text>
<text x="448.3" y="414.3" font-size="4.8" fill="#9c9c9c">631</text>
<text x="485.3" y="344.8" font-size="4.8" fill="#9c9c9c">1730</text>
<text x="462.5" y="351" font-size="4.8" fill="#9c9c9c">643</text>
<text x="481.6" y="353.7" font-size="4.8" fill="#9c9c9c">1653</text>
<text x="472.2" y="358.6" font-size="4.8" fill="#9c9c9c">161</text>
<text x="494" y="358.6" font-size="4.8" fill="#9c9c9c">1408</text>
<text x="485.8" y="363.1" font-size="4.8" fill="#9c9c9c">6337</text>
<text x="488.8" y="365.6" font-size="4.8" fill="#9c9c9c">1917</text>
<text x="469.5" y="373.9" font-size="4.8" fill="#9c9c9c">792</text>
<text x="478.5" y="375.9" font-size="4.8" fill="#9c9c9c">371</text>
<text x="472.2" y="379.6" font-size="4.8" fill="#9c9c9c">1120</text>
<text x="477" y="382.8" font-size="4.8" fill="#9c9c9c">548</text>
<text x="462.9" y="385.9" font-size="4.8" fill="#9c9c9c">1679</text>
<circle cx="86.9" cy="300.4" r="2.60" fill="#7b7b7b" stroke="#e2e2e2" stroke-width="0.9"/>
<circle cx="115.8" cy="306.7" r="2.60" fill="#7b7b7b" stroke="#e2e2e2" stroke-width="0.9"/>
<circle cx="121.5" cy="305.2" r="2.60" fill="#7b7b7b" stroke="#e2e2e2" stroke-width="0.9"/>
<circle cx="112.5" cy="311" r="2.60" fill="#7b7b7b" stroke="#e2e2e2" stroke-width="0.9"/>
<circle cx="110.6" cy="317.7" r="2.60" fill="#7b7b7b" stroke="#e2e2e2" stroke-width="0.9"/>
<circle cx="161.9" cy="341.7" r="2.60" fill="#7b7b7b" stroke="#e2e2e2" stroke-width="0.9"/>
<circle cx="161.3" cy="360.8" r="2.60" fill="#7b7b7b" stroke="#e2e2e2" stroke-width="0.9"/>
<circle cx="165.8" cy="366.5" r="2.60" fill="#7b7b7b" stroke="#e2e2e2" stroke-width="0.9"/>
<circle cx="187.3" cy="374.2" r="2.60" fill="#7b7b7b" stroke="#e2e2e2" stroke-width="0.9"/>
<circle cx="161.3" cy="376.7" r="2.60" fill="#7b7b7b" stroke="#e2e2e2" stroke-width="0.9"/>
<circle cx="162.7" cy="379.6" r="2.60" fill="#7b7b7b" stroke="#e2e2e2" stroke-width="0.9"/>
<circle cx="109.6" cy="384.6" r="2.60" fill="#7b7b7b" stroke="#e2e2e2" stroke-width="0.9"/>
<circle cx="112.6" cy="394" r="2.60" fill="#7b7b7b" stroke="#e2e2e2" stroke-width="0.9"/>
<circle cx="78.8" cy="387.5" r="2.60" fill="#7b7b7b" stroke="#e2e2e2" stroke-width="0.9"/>
<circle cx="80.8" cy="391.7" r="2.60" fill="#7b7b7b" stroke="#e2e2e2" stroke-width="0.9"/>
<circle cx="92.1" cy="388.8" r="2.60" fill="#7b7b7b" stroke="#e2e2e2" stroke-width="0.9"/>
<circle cx="69.2" cy="394.2" r="2.60" fill="#7b7b7b" stroke="#e2e2e2" stroke-width="0.9"/>
<circle cx="74.8" cy="401" r="2.60" fill="#7b7b7b" stroke="#e2e2e2" stroke-width="0.9"/>
<circle cx="71.5" cy="406.7" r="2.60" fill="#7b7b7b" stroke="#e2e2e2" stroke-width="0.9"/>
<circle cx="74.4" cy="411.5" r="2.60" fill="#7b7b7b" stroke="#e2e2e2" stroke-width="0.9"/>
<circle cx="106.7" cy="408.5" r="2.60" fill="#7b7b7b" stroke="#e2e2e2" stroke-width="0.9"/>
<circle cx="106.7" cy="410.6" r="2.60" fill="#7b7b7b" stroke="#e2e2e2" stroke-width="0.9"/>
<circle cx="55.2" cy="405" r="2.60" fill="#7b7b7b" stroke="#e2e2e2" stroke-width="0.9"/>
<circle cx="49" cy="407.3" r="2.60" fill="#7b7b7b" stroke="#e2e2e2" stroke-width="0.9"/>
<circle cx="39.4" cy="388" r="2.60" fill="#7b7b7b" stroke="#e2e2e2" stroke-width="0.9"/>
<circle cx="66.7" cy="425.4" r="2.60" fill="#7b7b7b" stroke="#e2e2e2" stroke-width="0.9"/>
<circle cx="68.7" cy="426.7" r="2.60" fill="#7b7b7b" stroke="#e2e2e2" stroke-width="0.9"/>
<circle cx="75.4" cy="424.4" r="2.60" fill="#7b7b7b" stroke="#e2e2e2" stroke-width="0.9"/>
<circle cx="142.3" cy="419" r="2.60" fill="#7b7b7b" stroke="#e2e2e2" stroke-width="0.9"/>
<circle cx="115.2" cy="426.3" r="2.60" fill="#7b7b7b" stroke="#e2e2e2" stroke-width="0.9"/>
<circle cx="167.7" cy="406" r="2.60" fill="#7b7b7b" stroke="#e2e2e2" stroke-width="0.9"/>
<circle cx="199" cy="401.7" r="2.60" fill="#7b7b7b" stroke="#e2e2e2" stroke-width="0.9"/>
<circle cx="216.9" cy="424.2" r="2.60" fill="#7b7b7b" stroke="#e2e2e2" stroke-width="0.9"/>
<circle cx="241.3" cy="424.6" r="2.60" fill="#7b7b7b" stroke="#e2e2e2" stroke-width="0.9"/>
<circle cx="203.5" cy="438.7" r="2.60" fill="#7b7b7b" stroke="#e2e2e2" stroke-width="0.9"/>
<circle cx="213.5" cy="440" r="2.60" fill="#7b7b7b" stroke="#e2e2e2" stroke-width="0.9"/>
<circle cx="223.5" cy="436.3" r="2.60" fill="#7b7b7b" stroke="#e2e2e2" stroke-width="0.9"/>
<circle cx="209.2" cy="457.9" r="2.60" fill="#7b7b7b" stroke="#e2e2e2" stroke-width="0.9"/>
<circle cx="210" cy="470" r="2.60" fill="#7b7b7b" stroke="#e2e2e2" stroke-width="0.9"/>
<circle cx="141" cy="445.6" r="2.60" fill="#7b7b7b" stroke="#e2e2e2" stroke-width="0.9"/>
<circle cx="167.7" cy="454.2" r="2.60" fill="#7b7b7b" stroke="#e2e2e2" stroke-width="0.9"/>
<circle cx="89.8" cy="464.6" r="2.60" fill="#7b7b7b" stroke="#e2e2e2" stroke-width="0.9"/>
<circle cx="279" cy="413.5" r="2.60" fill="#7b7b7b" stroke="#e2e2e2" stroke-width="0.9"/>
<circle cx="194.4" cy="475.5" r="2.60" fill="#7b7b7b" stroke="#e2e2e2" stroke-width="0.9"/>
<circle cx="108.7" cy="262.5" r="2.60" fill="#1f6e34" stroke="#b0dcb0" stroke-width="0.9"/>
<circle cx="118.3" cy="263.7" r="2.60" fill="#1f6e34" stroke="#b0dcb0" stroke-width="0.9"/>
<circle cx="131.7" cy="258.8" r="2.60" fill="#1f6e34" stroke="#b0dcb0" stroke-width="0.9"/>
<circle cx="110" cy="268.5" r="2.60" fill="#1f6e34" stroke="#b0dcb0" stroke-width="0.9"/>
<circle cx="126" cy="268.8" r="2.60" fill="#1f6e34" stroke="#b0dcb0" stroke-width="0.9"/>
<circle cx="131.7" cy="270.4" r="2.60" fill="#1f6e34" stroke="#b0dcb0" stroke-width="0.9"/>
<circle cx="117.3" cy="276" r="2.60" fill="#1f6e34" stroke="#b0dcb0" stroke-width="0.9"/>
<circle cx="105.8" cy="281" r="2.60" fill="#1f6e34" stroke="#b0dcb0" stroke-width="0.9"/>
<circle cx="116" cy="283.3" r="2.60" fill="#1f6e34" stroke="#b0dcb0" stroke-width="0.9"/>
<circle cx="131.2" cy="284.2" r="2.60" fill="#1f6e34" stroke="#b0dcb0" stroke-width="0.9"/>
<circle cx="139.4" cy="286" r="2.60" fill="#1f6e34" stroke="#b0dcb0" stroke-width="0.9"/>
<circle cx="146.7" cy="282" r="2.60" fill="#1f6e34" stroke="#b0dcb0" stroke-width="0.9"/>
<circle cx="107.7" cy="289.6" r="2.60" fill="#1f6e34" stroke="#b0dcb0" stroke-width="0.9"/>
<circle cx="111.5" cy="289.6" r="2.60" fill="#1f6e34" stroke="#b0dcb0" stroke-width="0.9"/>
<circle cx="108.7" cy="293.8" r="2.60" fill="#1f6e34" stroke="#b0dcb0" stroke-width="0.9"/>
<circle cx="141.3" cy="292.3" r="2.60" fill="#1f6e34" stroke="#b0dcb0" stroke-width="0.9"/>
<circle cx="149" cy="297" r="2.60" fill="#1f6e34" stroke="#b0dcb0" stroke-width="0.9"/>
<circle cx="84.6" cy="285.6" r="2.60" fill="#1f6e34" stroke="#b0dcb0" stroke-width="0.9"/>
<circle cx="90.8" cy="281.7" r="2.60" fill="#1f6e34" stroke="#b0dcb0" stroke-width="0.9"/>
<circle cx="93.7" cy="281.2" r="2.60" fill="#1f6e34" stroke="#b0dcb0" stroke-width="0.9"/>
<circle cx="95.6" cy="283.7" r="2.60" fill="#1f6e34" stroke="#b0dcb0" stroke-width="0.9"/>
<circle cx="93.7" cy="285.6" r="2.60" fill="#1f6e34" stroke="#b0dcb0" stroke-width="0.9"/>
<circle cx="176.7" cy="358.8" r="2.60" fill="#1f6e34" stroke="#b0dcb0" stroke-width="0.9"/>
<circle cx="172.3" cy="364.6" r="2.60" fill="#1f6e34" stroke="#b0dcb0" stroke-width="0.9"/>
<circle cx="178.1" cy="374.8" r="2.60" fill="#1f6e34" stroke="#b0dcb0" stroke-width="0.9"/>
<circle cx="92.7" cy="301" r="2.60" fill="#5a9a2e" stroke="#d8f2b6" stroke-width="0.9"/>
<circle cx="66.5" cy="376.4" r="2.60" fill="#5a9a2e" stroke="#d8f2b6" stroke-width="0.9"/>
<circle cx="33.7" cy="381" r="2.60" fill="#5a9a2e" stroke="#d8f2b6" stroke-width="0.9"/>
<circle cx="44.2" cy="385.8" r="2.60" fill="#5a9a2e" stroke="#d8f2b6" stroke-width="0.9"/>
<circle cx="64.3" cy="395.9" r="2.60" fill="#5a9a2e" stroke="#d8f2b6" stroke-width="0.9"/>
<circle cx="77.6" cy="407.2" r="2.60" fill="#5a9a2e" stroke="#d8f2b6" stroke-width="0.9"/>
<circle cx="86" cy="394" r="2.60" fill="#24247e" stroke="#c4c4ee" stroke-width="0.9"/>
<circle cx="89.6" cy="398.8" r="2.60" fill="#24247e" stroke="#c4c4ee" stroke-width="0.9"/>
<circle cx="101.9" cy="401.9" r="2.60" fill="#24247e" stroke="#c4c4ee" stroke-width="0.9"/>
<circle cx="30.8" cy="396.3" r="2.60" fill="#dc5596" stroke="#f8c4e0" stroke-width="0.9"/>
<circle cx="166.2" cy="355.6" r="2.60" fill="#dc5596" stroke="#f8c4e0" stroke-width="0.9"/>
<circle cx="177.3" cy="382.7" r="2.60" fill="#dc5596" stroke="#f8c4e0" stroke-width="0.9"/>
<circle cx="55.2" cy="495.4" r="2.60" fill="#dc5596" stroke="#f8c4e0" stroke-width="0.9"/>
<circle cx="189.2" cy="347.1" r="2.15" fill="#cf9bd0" stroke="#f4dcf4" stroke-width="0.9"/>
<circle cx="197.3" cy="346" r="2.15" fill="#cf9bd0" stroke="#f4dcf4" stroke-width="0.9"/>
<circle cx="208.8" cy="345.2" r="2.15" fill="#cf9bd0" stroke="#f4dcf4" stroke-width="0.9"/>
<circle cx="211.7" cy="344.2" r="2.15" fill="#cf9bd0" stroke="#f4dcf4" stroke-width="0.9"/>
<circle cx="238.7" cy="335" r="2.15" fill="#cf9bd0" stroke="#f4dcf4" stroke-width="0.9"/>
<circle cx="246.3" cy="329.8" r="2.15" fill="#cf9bd0" stroke="#f4dcf4" stroke-width="0.9"/>
<circle cx="246.3" cy="335.2" r="2.15" fill="#cf9bd0" stroke="#f4dcf4" stroke-width="0.9"/>
<circle cx="57" cy="452" r="2.15" fill="#e6b5c6" stroke="#fbe4ec" stroke-width="0.9"/>
<circle cx="36" cy="486.3" r="2.15" fill="#e6b5c6" stroke="#fbe4ec" stroke-width="0.9"/>
<circle cx="51.3" cy="482.3" r="2.15" fill="#e6b5c6" stroke="#fbe4ec" stroke-width="0.9"/>
<circle cx="44.2" cy="491" r="2.15" fill="#e6b5c6" stroke="#fbe4ec" stroke-width="0.9"/>
<circle cx="156.7" cy="435.5" r="2.60" fill="#d0102a" stroke="#f8bcc4" stroke-width="0.9"/>
<circle cx="153.5" cy="457.5" r="2.60" fill="#d0102a" stroke="#f8bcc4" stroke-width="0.9"/>
<circle cx="165.4" cy="459.6" r="2.60" fill="#d0102a" stroke="#f8bcc4" stroke-width="0.9"/>
<circle cx="140" cy="469.6" r="2.60" fill="#d0102a" stroke="#f8bcc4" stroke-width="0.9"/>
<circle cx="134.2" cy="473.5" r="2.60" fill="#d0102a" stroke="#f8bcc4" stroke-width="0.9"/>
<circle cx="124" cy="476.5" r="2.60" fill="#d0102a" stroke="#f8bcc4" stroke-width="0.9"/>
<circle cx="118.8" cy="477.3" r="2.60" fill="#d0102a" stroke="#f8bcc4" stroke-width="0.9"/>
<circle cx="86" cy="471" r="2.60" fill="#d0102a" stroke="#f8bcc4" stroke-width="0.9"/>
<circle cx="79.2" cy="477.7" r="2.60" fill="#d0102a" stroke="#f8bcc4" stroke-width="0.9"/>
<circle cx="151.5" cy="444.8" r="2.60" fill="#c44a14" stroke="#f0c890" stroke-width="0.9"/>
<circle cx="152.3" cy="448.5" r="2.60" fill="#c44a14" stroke="#f0c890" stroke-width="0.9"/>
<circle cx="150.4" cy="462" r="2.60" fill="#9a78a8" stroke="#e0d0f0" stroke-width="0.9"/>
<circle cx="193.8" cy="410.4" r="2.60" fill="#8e1a74" stroke="#f5c8ee" stroke-width="0.9"/>
<circle cx="195.8" cy="416.5" r="2.60" fill="#8e1a74" stroke="#f5c8ee" stroke-width="0.9"/>
<circle cx="199" cy="427.7" r="2.60" fill="#8e1a74" stroke="#f5c8ee" stroke-width="0.9"/>
<circle cx="201" cy="433.5" r="2.60" fill="#8e1a74" stroke="#f5c8ee" stroke-width="0.9"/>
<circle cx="204.8" cy="432" r="2.60" fill="#8e1a74" stroke="#f5c8ee" stroke-width="0.9"/>
<circle cx="190" cy="440.2" r="2.60" fill="#8e1a74" stroke="#f5c8ee" stroke-width="0.9"/>
<circle cx="220.2" cy="445" r="2.60" fill="#8e1a74" stroke="#f5c8ee" stroke-width="0.9"/>
<circle cx="202.9" cy="452.1" r="2.60" fill="#8e1a74" stroke="#f5c8ee" stroke-width="0.9"/>
<circle cx="190" cy="459.2" r="2.60" fill="#8e1a74" stroke="#f5c8ee" stroke-width="0.9"/>
<circle cx="190" cy="465.6" r="2.60" fill="#8e1a74" stroke="#f5c8ee" stroke-width="0.9"/>
<circle cx="218.3" cy="471.7" r="2.60" fill="#8e1a74" stroke="#f5c8ee" stroke-width="0.9"/>
<circle cx="172.5" cy="495.6" r="2.60" fill="#8e1a74" stroke="#f5c8ee" stroke-width="0.9"/>
<circle cx="189.8" cy="499.4" r="2.60" fill="#8e1a74" stroke="#f5c8ee" stroke-width="0.9"/>
<circle cx="180.2" cy="501.3" r="2.60" fill="#8e1a74" stroke="#f5c8ee" stroke-width="0.9"/>
<circle cx="180.2" cy="504.2" r="2.60" fill="#8e1a74" stroke="#f5c8ee" stroke-width="0.9"/>
<circle cx="180.2" cy="507.1" r="2.60" fill="#8e1a74" stroke="#f5c8ee" stroke-width="0.9"/>
<circle cx="172.5" cy="495.6" r="2.60" fill="#6a2a5e" stroke="#e8c8e8" stroke-width="0.9"/>
<circle cx="234.8" cy="392.5" r="2.60" fill="#a85a36" stroke="#f4c8b0" stroke-width="0.9"/>
<circle cx="225" cy="407.3" r="2.60" fill="#a85a36" stroke="#f4c8b0" stroke-width="0.9"/>
<circle cx="226.9" cy="404.8" r="2.60" fill="#a85a36" stroke="#f4c8b0" stroke-width="0.9"/>
<circle cx="257.9" cy="419.2" r="2.60" fill="#94584a" stroke="#ecd0c8" stroke-width="0.9"/>
<circle cx="263" cy="418.8" r="2.60" fill="#94584a" stroke="#ecd0c8" stroke-width="0.9"/>
<circle cx="273.8" cy="375.6" r="2.60" fill="#3e5ea8" stroke="#c4d4f0" stroke-width="0.9"/>
<circle cx="276.2" cy="374" r="2.60" fill="#3e5ea8" stroke="#c4d4f0" stroke-width="0.9"/>
<circle cx="278" cy="373" r="2.60" fill="#3e5ea8" stroke="#c4d4f0" stroke-width="0.9"/>
<circle cx="241.2" cy="397.7" r="2.60" fill="#3e5ea8" stroke="#c4d4f0" stroke-width="0.9"/>
<circle cx="248.3" cy="399" r="2.60" fill="#3e5ea8" stroke="#c4d4f0" stroke-width="0.9"/>
<circle cx="258.5" cy="401.5" r="2.60" fill="#3e5ea8" stroke="#c4d4f0" stroke-width="0.9"/>
<circle cx="254.8" cy="426.5" r="2.60" fill="#2eaed0" stroke="#c0ecf8" stroke-width="0.9"/>
<circle cx="277" cy="461" r="2.60" fill="#35a0b2" stroke="#c0e8f0" stroke-width="0.9"/>
<circle cx="277.9" cy="464.4" r="2.60" fill="#35a0b2" stroke="#c0e8f0" stroke-width="0.9"/>
<circle cx="288.6" cy="437.2" r="2.60" fill="#efd400" stroke="#fff4a0" stroke-width="0.9"/>
<circle cx="289.8" cy="440.4" r="2.60" fill="#efd400" stroke="#fff4a0" stroke-width="0.9"/>
<circle cx="436" cy="377.1" r="2.55" fill="#ecca00" stroke="#fff2a8" stroke-width="0.9"/>
<circle cx="404.8" cy="386.7" r="2.55" fill="#ecca00" stroke="#fff2a8" stroke-width="0.9"/>
<circle cx="434" cy="386.2" r="2.55" fill="#ecca00" stroke="#fff2a8" stroke-width="0.9"/>
<circle cx="387.9" cy="392" r="2.55" fill="#ecca00" stroke="#fff2a8" stroke-width="0.9"/>
<circle cx="447.5" cy="392.5" r="2.55" fill="#ecca00" stroke="#fff2a8" stroke-width="0.9"/>
<circle cx="456" cy="393.5" r="2.55" fill="#ecca00" stroke="#fff2a8" stroke-width="0.9"/>
<circle cx="396.5" cy="398.3" r="2.55" fill="#ecca00" stroke="#fff2a8" stroke-width="0.9"/>
<circle cx="399.4" cy="400.8" r="2.55" fill="#ecca00" stroke="#fff2a8" stroke-width="0.9"/>
<circle cx="411" cy="398.3" r="2.55" fill="#ecca00" stroke="#fff2a8" stroke-width="0.9"/>
<circle cx="426.3" cy="397.7" r="2.55" fill="#ecca00" stroke="#fff2a8" stroke-width="0.9"/>
<circle cx="440.8" cy="399.6" r="2.55" fill="#ecca00" stroke="#fff2a8" stroke-width="0.9"/>
<circle cx="390.8" cy="401.2" r="2.55" fill="#ecca00" stroke="#fff2a8" stroke-width="0.9"/>
<circle cx="373.5" cy="403" r="2.55" fill="#ecca00" stroke="#fff2a8" stroke-width="0.9"/>
<circle cx="400.4" cy="405" r="2.55" fill="#ecca00" stroke="#fff2a8" stroke-width="0.9"/>
<circle cx="423.5" cy="402.7" r="2.55" fill="#ecca00" stroke="#fff2a8" stroke-width="0.9"/>
<circle cx="436.9" cy="401.7" r="2.55" fill="#ecca00" stroke="#fff2a8" stroke-width="0.9"/>
<circle cx="412" cy="407.9" r="2.55" fill="#ecca00" stroke="#fff2a8" stroke-width="0.9"/>
<circle cx="403.8" cy="415.2" r="2.55" fill="#ecca00" stroke="#fff2a8" stroke-width="0.9"/>
<circle cx="446.5" cy="412.7" r="2.55" fill="#ecca00" stroke="#fff2a8" stroke-width="0.9"/>
<circle cx="483.5" cy="343.2" r="2.55" fill="#ecca00" stroke="#fff2a8" stroke-width="0.9"/>
<circle cx="460.7" cy="349.4" r="2.55" fill="#ecca00" stroke="#fff2a8" stroke-width="0.9"/>
<circle cx="479.8" cy="352.1" r="2.55" fill="#ecca00" stroke="#fff2a8" stroke-width="0.9"/>
<circle cx="468.4" cy="357" r="2.55" fill="#ecca00" stroke="#fff2a8" stroke-width="0.9"/>
<circle cx="470.4" cy="355.7" r="2.55" fill="#ecca00" stroke="#fff2a8" stroke-width="0.9"/>
<circle cx="492.2" cy="357" r="2.55" fill="#ecca00" stroke="#fff2a8" stroke-width="0.9"/>
<circle cx="482.5" cy="360" r="2.55" fill="#ecca00" stroke="#fff2a8" stroke-width="0.9"/>
<circle cx="484" cy="361.5" r="2.55" fill="#ecca00" stroke="#fff2a8" stroke-width="0.9"/>
<circle cx="487" cy="364" r="2.55" fill="#ecca00" stroke="#fff2a8" stroke-width="0.9"/>
<circle cx="467.7" cy="372.3" r="2.55" fill="#ecca00" stroke="#fff2a8" stroke-width="0.9"/>
<circle cx="476.7" cy="374.3" r="2.55" fill="#ecca00" stroke="#fff2a8" stroke-width="0.9"/>
<circle cx="470.4" cy="378" r="2.55" fill="#ecca00" stroke="#fff2a8" stroke-width="0.9"/>
<circle cx="475.2" cy="381.2" r="2.55" fill="#ecca00" stroke="#fff2a8" stroke-width="0.9"/>
<circle cx="461.1" cy="384.3" r="2.55" fill="#ecca00" stroke="#fff2a8" stroke-width="0.9"/>
<circle cx="447.6" cy="392.6" r="2.55" fill="#ecca00" stroke="#fff2a8" stroke-width="0.9"/>
<circle cx="439.3" cy="398.8" r="2.55" fill="#ecca00" stroke="#fff2a8" stroke-width="0.9"/>
<circle cx="437.9" cy="401.3" r="2.55" fill="#ecca00" stroke="#fff2a8" stroke-width="0.9"/>
<path d="M187.7,374 L195.4,365.4" stroke="#333" stroke-width="0.5"/><path d="M195.4,365.4 l-2.2,0.6 l1.2,1.2z" fill="#333"/>
<path d="M279,413.5 L287.7,406.7" stroke="#333" stroke-width="0.5"/><path d="M287.7,406.7 l-2.3,0.4 l1.1,1.3z" fill="#333"/>
<path d="M423.5,365.6 L435.6,376.7" stroke="#e8b830" stroke-width="0.5"/>
<text x="152.5" y="271.0" font-size="6.6" fill="#5c5c5c" stroke="#5c5c5c" stroke-width="0.22" font-weight="normal" textLength="36.9" lengthAdjust="spacingAndGlyphs">ETV6-RUNX1</text>
<text x="25" y="367.0" font-size="6.6" fill="#5c5c5c" stroke="#5c5c5c" stroke-width="0.22" font-weight="normal" textLength="21.2" lengthAdjust="spacingAndGlyphs">iAMP21</text>
<text x="231" y="348.0" font-size="6.6" fill="#5c5c5c" stroke="#5c5c5c" stroke-width="0.22" font-weight="normal" textLength="23" lengthAdjust="spacingAndGlyphs">ZNF384r</text>
<text x="208" y="394.4" font-size="6.6" fill="#5c5c5c" stroke="#5c5c5c" stroke-width="0.22" font-weight="normal" textLength="22.1" lengthAdjust="spacingAndGlyphs">NUTM1r</text>
<text x="270.4" y="392.4" font-size="6.6" fill="#5c5c5c" stroke="#5c5c5c" stroke-width="0.22" font-weight="normal" textLength="23.1" lengthAdjust="spacingAndGlyphs">KMT2Ar</text>
<text x="113.8" y="403.2" font-size="6.6" fill="#5c5c5c" stroke="#5c5c5c" stroke-width="0.22" font-weight="normal" textLength="12.5" lengthAdjust="spacingAndGlyphs">HeH</text>
<text x="161.5" y="421.8" font-size="6.6" fill="#5c5c5c" stroke="#5c5c5c" stroke-width="0.22" font-weight="normal" textLength="21.2" lengthAdjust="spacingAndGlyphs">B-‘rest’</text>
<text x="102" y="461.0" font-size="6.6" fill="#5c5c5c" stroke="#5c5c5c" stroke-width="0.22" font-weight="normal" textLength="33.6" lengthAdjust="spacingAndGlyphs">CRLF2-high</text>
<text x="223" y="457.4" font-size="6.6" fill="#5c5c5c" stroke="#5c5c5c" stroke-width="0.22" font-weight="normal" textLength="34.7" lengthAdjust="spacingAndGlyphs">PAX5-driven</text>
<text x="288.7" y="431.4" font-size="6.6" fill="#5c5c5c" stroke="#5c5c5c" stroke-width="0.22" font-weight="normal" textLength="36" lengthAdjust="spacingAndGlyphs">TCF3-PBX1</text>
<text x="284.6" y="457.2" font-size="6.6" fill="#5c5c5c" stroke="#5c5c5c" stroke-width="0.22" font-weight="normal" textLength="22" lengthAdjust="spacingAndGlyphs">MEF2Dr</text>
<text x="32" y="472.4" font-size="6.6" fill="#5c5c5c" stroke="#5c5c5c" stroke-width="0.22" font-weight="normal" textLength="31.7" lengthAdjust="spacingAndGlyphs">AJ2E-class</text>
<text x="442.4" y="366.0" font-size="6.6" fill="#555" stroke="#555" stroke-width="0.22" font-weight="normal" textLength="18.7" lengthAdjust="spacingAndGlyphs">DUX4r</text>
<text x="191.5" y="364.3" font-size="4.8" fill="#222" font-weight="bold" text-anchor="start" >ETV6-r</text>
<text x="278" y="405.3" font-size="4.8" fill="#222" font-weight="bold" text-anchor="start" >IKZF1 N159Y</text>
<text x="18" y="397.6" font-size="5.2" fill="#555" font-weight="normal" text-anchor="start" >Ph+</text>
<text x="172" y="390.8" font-size="5.2" fill="#555" font-weight="normal" text-anchor="start" >Ph+</text>
<text x="61" y="502.8" font-size="5.2" fill="#555" font-weight="normal" text-anchor="start" >Ph+</text>
<text x="413.8" y="362.6" font-size="4.8" fill="#e0b020" font-weight="normal" text-anchor="start" >ETV6-r</text>
<text x="81.5" y="499.4" font-size="4.8" fill="#e07a7a" font-weight="normal" text-anchor="start" >JAK2+</text>
<path d="M88,489.5 v3" stroke="#e0a0a0" stroke-width="0.5"/>
<text x="209.6" y="486.2" font-size="4.8" fill="#e8909a" font-weight="normal" text-anchor="start" >* PAX5-JAK2</text>
<text x="169.2" y="518.8" font-size="6.3" fill="#9a2a8a" font-weight="bold" text-anchor="start" >PAX5 P80R</text>
<circle cx="368.3" cy="470.0" r="1.8" fill="#ecd2da"/>
<text x="371.8" y="471.8" font-size="5.0" fill="#444" font-weight="normal" text-anchor="start" >A2JE-class fusion (11)</text>
<circle cx="368.3" cy="478.2" r="1.8" fill="#8b8b8b"/>
<text x="371.8" y="480.0" font-size="5.0" fill="#444" font-weight="normal" text-anchor="start" >B-‘rest’ (48)</text>
<circle cx="368.3" cy="486.4" r="1.8" fill="#d2202c"/>
<text x="371.8" y="488.2" font-size="5.0" fill="#444" font-weight="normal" text-anchor="start" >CRLF2-high (11)</text>
<circle cx="368.3" cy="494.6" r="1.8" fill="#e8c24a"/>
<text x="371.8" y="496.40000000000003" font-size="5.0" fill="#444" font-weight="normal" text-anchor="start" >DUX4r-cluster (35)</text>
<circle cx="368.3" cy="502.8" r="1.8" fill="#2c6a3c"/>
<text x="371.8" y="504.6" font-size="5.0" fill="#444" font-weight="normal" text-anchor="start" >ETV6-RUNX1 (24)</text>
<circle cx="368.3" cy="511.0" r="1.8" fill="#2a2a78"/>
<text x="371.8" y="512.8" font-size="5.0" fill="#444" font-weight="normal" text-anchor="start" >High Hyperdiploidy (3)</text>
<circle cx="368.3" cy="519.2" r="1.8" fill="#7aa050"/>
<text x="371.8" y="521.0" font-size="5.0" fill="#444" font-weight="normal" text-anchor="start" >iAMP21 (7)</text>
<circle cx="440.8" cy="468.9" r="1.8" fill="#5a6aaa"/>
<text x="443.8" y="470.7" font-size="5.0" fill="#444" font-weight="normal" text-anchor="start" >KMT2A-rearranged (6)</text>
<circle cx="440.8" cy="477.1" r="1.8" fill="#6ab2c4"/>
<text x="443.8" y="478.9" font-size="5.0" fill="#444" font-weight="normal" text-anchor="start" >MEF2D-rearranged (4)</text>
<circle cx="440.8" cy="485.3" r="1.8" fill="#8a5a4a"/>
<text x="443.8" y="487.09999999999997" font-size="5.0" fill="#444" font-weight="normal" text-anchor="start" >NUTM1-rearranged (4)</text>
<circle cx="440.8" cy="493.5" r="1.8" fill="#7a2a7a"/>
<text x="443.8" y="495.3" font-size="5.0" fill="#444" font-weight="normal" text-anchor="start" >PAX5-driven (18)</text>
<circle cx="440.8" cy="501.7" r="1.8" fill="#d0308a"/>
<text x="443.8" y="503.5" font-size="5.0" fill="#444" font-weight="normal" text-anchor="start" >Ph-positive (4)</text>
<circle cx="440.8" cy="509.9" r="1.8" fill="#f0d000"/>
<text x="443.8" y="511.7" font-size="5.0" fill="#444" font-weight="normal" text-anchor="start" >TCF3-PBX1 (3)</text>
<circle cx="440.8" cy="518.1" r="1.8" fill="#dcc6dc"/>
<text x="443.8" y="519.9" font-size="5.0" fill="#444" font-weight="normal" text-anchor="start" >ZNF384-rearranged (9)</text>
<rect x="0.5" y="0.5" width="519" height="529" fill="none" stroke="#5c5c5c" stroke-width="1"/>
</svg>
</body></html>
